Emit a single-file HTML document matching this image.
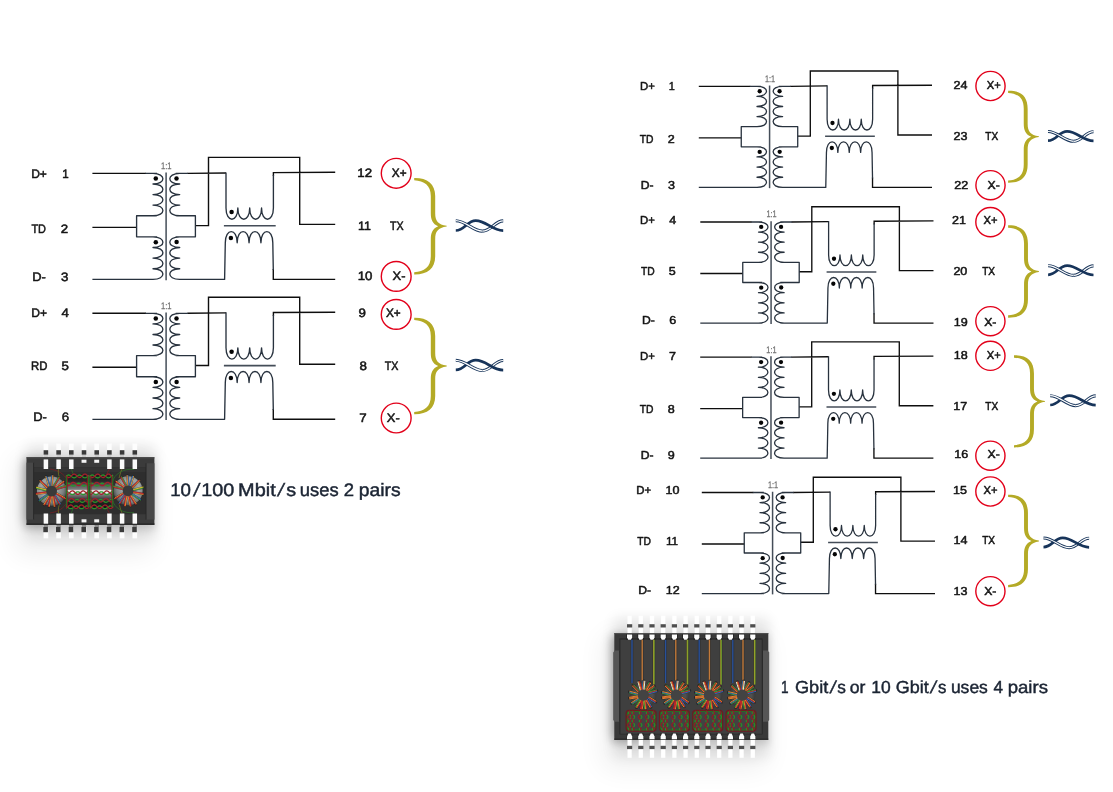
<!DOCTYPE html>
<html lang="en">
<head>
<meta charset="utf-8">
<title>Ethernet transformer pairs</title>
<style>
html,body{margin:0;padding:0;background:#ffffff;}
body{width:1113px;height:792px;overflow:hidden;}
svg{display:block;font-family:'Liberation Sans', sans-serif;will-change:transform;text-rendering:geometricPrecision;}
</style>
</head>
<body>
<svg width="1113" height="792" viewBox="0 0 1113 792">
<defs>
<filter id="blurA" x="-50%" y="-50%" width="200%" height="200%"><feGaussianBlur stdDeviation="13"/></filter>
<filter id="blurB" x="-50%" y="-50%" width="200%" height="200%"><feGaussianBlur stdDeviation="3.5"/></filter>
<filter id="blurH" x="-50%" y="-50%" width="200%" height="200%"><feGaussianBlur stdDeviation="6.5"/></filter>
<filter id="blurC" x="-100%" y="-50%" width="300%" height="200%"><feGaussianBlur stdDeviation="6"/></filter>
<filter id="soft" x="-10%" y="-10%" width="120%" height="120%"><feGaussianBlur stdDeviation="0.35"/></filter>
<radialGradient id="torL" cx="0.42" cy="0.4" r="0.62"><stop offset="0" stop-color="#6a6e6e"/><stop offset="0.45" stop-color="#a2a6a6"/><stop offset="0.8" stop-color="#7a7e7e"/><stop offset="1" stop-color="#4a4c4c"/></radialGradient>
<radialGradient id="torD" cx="0.5" cy="0.5" r="0.5"><stop offset="0" stop-color="#474747"/><stop offset="0.7" stop-color="#505050"/><stop offset="1" stop-color="#383838"/></radialGradient>
<linearGradient id="cyl" x1="0" y1="0" x2="0" y2="1"><stop offset="0" stop-color="#1a1a1a"/><stop offset="0.2" stop-color="#282828"/><stop offset="0.3" stop-color="#525252"/><stop offset="0.44" stop-color="#7c7c7c"/><stop offset="0.48" stop-color="#ededed"/><stop offset="0.55" stop-color="#f2f2f2"/><stop offset="0.59" stop-color="#808080"/><stop offset="0.7" stop-color="#4c4c4c"/><stop offset="0.8" stop-color="#242424"/><stop offset="1" stop-color="#161616"/></linearGradient>
</defs>
<g><rect x="14" y="456" width="140" height="100" rx="12" fill="#000" opacity="0.06" filter="url(#blurA)"/><rect x="25.5" y="445.2" width="129.9" height="93.7" rx="4" fill="#000" opacity="0.085" filter="url(#blurH)"/><rect x="23.5" y="460.2" width="26" height="63.7" fill="#000" opacity="0.24" filter="url(#blurC)"/><rect x="24.5" y="458.2" width="130.9" height="71.2" fill="#000" opacity="0.12" filter="url(#blurB)"/><rect x="43.6" y="443.6" width="4.6" height="14" fill="#fdfdfd"/><rect x="43.6" y="450.2" width="4.6" height="4.6" fill="#3a3a3a"/><rect x="43.6" y="454.8" width="4.6" height="2.4" fill="#c9c9c9"/><rect x="43.6" y="524.9" width="4.6" height="13.4" fill="#fdfdfd"/><rect x="43.3" y="527" width="4.6" height="5.2" fill="#3a3a3a"/><rect x="43.6" y="524.9" width="4.6" height="2.1" fill="#8a8a8a"/><rect x="56.3" y="443.6" width="4.6" height="14" fill="#fdfdfd"/><rect x="56.3" y="450.2" width="4.6" height="4.6" fill="#3a3a3a"/><rect x="56.3" y="454.8" width="4.6" height="2.4" fill="#c9c9c9"/><rect x="56.3" y="524.9" width="4.6" height="13.4" fill="#fdfdfd"/><rect x="56" y="527" width="4.6" height="5.2" fill="#3a3a3a"/><rect x="56.3" y="524.9" width="4.6" height="2.1" fill="#8a8a8a"/><rect x="69" y="443.6" width="4.6" height="14" fill="#fdfdfd"/><rect x="69" y="450.2" width="4.6" height="4.6" fill="#3a3a3a"/><rect x="69" y="454.8" width="4.6" height="2.4" fill="#c9c9c9"/><rect x="69" y="524.9" width="4.6" height="13.4" fill="#fdfdfd"/><rect x="68.7" y="527" width="4.6" height="5.2" fill="#3a3a3a"/><rect x="69" y="524.9" width="4.6" height="2.1" fill="#8a8a8a"/><rect x="81.7" y="443.6" width="4.6" height="14" fill="#fdfdfd"/><rect x="81.7" y="450.2" width="4.6" height="4.6" fill="#3a3a3a"/><rect x="81.7" y="454.8" width="4.6" height="2.4" fill="#c9c9c9"/><rect x="81.7" y="524.9" width="4.6" height="13.4" fill="#fdfdfd"/><rect x="81.4" y="527" width="4.6" height="5.2" fill="#3a3a3a"/><rect x="81.7" y="524.9" width="4.6" height="2.1" fill="#8a8a8a"/><rect x="94.4" y="443.6" width="4.6" height="14" fill="#fdfdfd"/><rect x="94.4" y="450.2" width="4.6" height="4.6" fill="#3a3a3a"/><rect x="94.4" y="454.8" width="4.6" height="2.4" fill="#c9c9c9"/><rect x="94.4" y="524.9" width="4.6" height="13.4" fill="#fdfdfd"/><rect x="94.1" y="527" width="4.6" height="5.2" fill="#3a3a3a"/><rect x="94.4" y="524.9" width="4.6" height="2.1" fill="#8a8a8a"/><rect x="107.1" y="443.6" width="4.6" height="14" fill="#fdfdfd"/><rect x="107.1" y="450.2" width="4.6" height="4.6" fill="#3a3a3a"/><rect x="107.1" y="454.8" width="4.6" height="2.4" fill="#c9c9c9"/><rect x="107.1" y="524.9" width="4.6" height="13.4" fill="#fdfdfd"/><rect x="106.8" y="527" width="4.6" height="5.2" fill="#3a3a3a"/><rect x="107.1" y="524.9" width="4.6" height="2.1" fill="#8a8a8a"/><rect x="119.8" y="443.6" width="4.6" height="14" fill="#fdfdfd"/><rect x="119.8" y="450.2" width="4.6" height="4.6" fill="#3a3a3a"/><rect x="119.8" y="454.8" width="4.6" height="2.4" fill="#c9c9c9"/><rect x="119.8" y="524.9" width="4.6" height="13.4" fill="#fdfdfd"/><rect x="119.5" y="527" width="4.6" height="5.2" fill="#3a3a3a"/><rect x="119.8" y="524.9" width="4.6" height="2.1" fill="#8a8a8a"/><rect x="132.5" y="443.6" width="4.6" height="14" fill="#fdfdfd"/><rect x="132.5" y="450.2" width="4.6" height="4.6" fill="#3a3a3a"/><rect x="132.5" y="454.8" width="4.6" height="2.4" fill="#c9c9c9"/><rect x="132.5" y="524.9" width="4.6" height="13.4" fill="#fdfdfd"/><rect x="132.2" y="527" width="4.6" height="5.2" fill="#3a3a3a"/><rect x="132.5" y="524.9" width="4.6" height="2.1" fill="#8a8a8a"/><rect x="26.5" y="457.2" width="127.9" height="67.7" fill="#3b3b3b"/><rect x="26.5" y="457.2" width="127.9" height="1.2" fill="#4a4a4a"/><rect x="26.5" y="523.3" width="127.9" height="1.6" fill="#2a2a2a"/><rect x="33.9" y="467.2" width="112" height="47.1" fill="#2e2e2e"/><rect x="33.9" y="467.2" width="112" height="5" fill="#343434"/><rect x="26.5" y="462.6" width="7.4" height="57" fill="#484848"/><rect x="33.2" y="462.6" width="0.9" height="57" fill="#262626"/><rect x="146" y="463.2" width="8.4" height="56.4" fill="#484848"/><rect x="145.6" y="463.2" width="0.9" height="56.4" fill="#262626"/><rect x="43.65" y="459.4" width="4.5" height="9.6" fill="#fafafa"/><rect x="43.65" y="513.5" width="4.5" height="10.2" fill="#fafafa"/><rect x="56.35" y="459.4" width="4.5" height="9.6" fill="#fafafa"/><rect x="56.35" y="513.5" width="4.5" height="10.2" fill="#fafafa"/><rect x="69.05" y="459.4" width="4.5" height="9.6" fill="#fafafa"/><rect x="69.05" y="513.5" width="4.5" height="10.2" fill="#fafafa"/><rect x="81.55" y="459.7" width="4.9" height="3.1" fill="#f4f4f4"/><rect x="81.55" y="519.3" width="4.9" height="3.1" fill="#f4f4f4"/><rect x="94.25" y="459.7" width="4.9" height="3.1" fill="#f4f4f4"/><rect x="94.25" y="519.3" width="4.9" height="3.1" fill="#f4f4f4"/><rect x="107.15" y="459.4" width="4.5" height="9.6" fill="#fafafa"/><rect x="107.15" y="513.5" width="4.5" height="10.2" fill="#fafafa"/><rect x="119.85" y="459.4" width="4.5" height="9.6" fill="#fafafa"/><rect x="119.85" y="513.5" width="4.5" height="10.2" fill="#fafafa"/><rect x="132.55" y="459.4" width="4.5" height="9.6" fill="#fafafa"/><rect x="132.55" y="513.5" width="4.5" height="10.2" fill="#fafafa"/><g fill="none" stroke-width="0.7" opacity="0.9"><path d="M50,469 C56,470 62,472 66,478" stroke="#8a1c22"/><path d="M58.5,469 C58,473 58.5,476 60,478" stroke="#8a8a20"/><path d="M50,513 C56,512 62,510 66,504" stroke="#8a1c22"/><path d="M58.5,513 C58,509 58.5,506 60,504" stroke="#8a8a20"/><path d="M71.3,469 C72,471 73,473 73.5,475" stroke="#2e7d2a"/><path d="M71.3,513 C72,511 73,509 73.5,507" stroke="#2e7d2a"/><path d="M109.4,469 C108,471 107,473 106.5,475" stroke="#8a1c22"/><path d="M109.4,513 C108,511 107,509 106.5,507" stroke="#8a1c22"/><path d="M122,469 C120,473 120,476 119,478" stroke="#8a8a20"/><path d="M122,513 C120,509 120,506 119,504" stroke="#8a8a20"/><path d="M134,469.5 C124,468 114,474 112.5,482" stroke="#2e7d2a"/><path d="M134,512.5 C124,514 114,508 112.5,500" stroke="#2e7d2a"/></g><circle cx="51.6" cy="491.1" r="14.7" fill="url(#torL)"/><g stroke="#151515" stroke-width="2.5" stroke-linecap="round" fill="none" opacity="0.55"><path d="M56.55,488.95 L66.31,485.9"/><path d="M55.64,487.51 L63.96,481.58"/><path d="M53.89,486.21 L59.18,477.46"/><path d="M51.51,485.7 L52.42,475.52"/><path d="M49.4,486.17 L46.26,476.44"/><path d="M47.33,487.79 L39.97,480.7"/><path d="M46.26,490.29 L36.38,487.69"/><path d="M46.36,492.39 L36.23,493.76"/><path d="M47.56,494.69 L39.24,500.62"/><path d="M49.39,496.03 L44.25,504.86"/><path d="M51,496.47 L48.8,506.45"/><path d="M53.02,496.31 L54.65,506.4"/><path d="M54.85,495.42 L60.08,504.19"/><path d="M56.49,493.38 L65.24,498.67"/></g><g stroke-width="0.95" stroke-linecap="round" fill="none"><path d="M56.43,488.54 L66.18,485.5" stroke="#3fa535"/><path d="M56.68,489.36 L66.44,486.31" stroke="#d2232a"/><path d="M55.39,487.17 L63.71,481.24" stroke="#f08a2a"/><path d="M55.88,487.86 L64.21,481.93" stroke="#d2232a"/><path d="M53.52,485.99 L58.82,477.24" stroke="#3fa535"/><path d="M54.25,486.43 L59.54,477.68" stroke="#d2232a"/><path d="M51.08,485.66 L52,475.48" stroke="#2f6fc0"/><path d="M51.93,485.74 L52.85,475.56" stroke="#e8862a"/><path d="M49,486.3 L45.86,476.57" stroke="#f0a030"/><path d="M49.81,486.04 L46.67,476.31" stroke="#2f6fc0"/><path d="M47.04,488.1 L39.68,481.01" stroke="#f08a2a"/><path d="M47.63,487.48 L40.27,480.39" stroke="#d2232a"/><path d="M46.15,490.7 L36.27,488.1" stroke="#3fa535"/><path d="M46.37,489.88 L36.48,487.28" stroke="#e8c52a"/><path d="M46.41,492.81 L36.29,494.19" stroke="#f08a2a"/><path d="M46.3,491.97 L36.17,493.34" stroke="#d2232a"/><path d="M47.81,495.03 L39.49,500.97" stroke="#3fa535"/><path d="M47.32,494.34 L39,500.28" stroke="#2f6fc0"/><path d="M49.76,496.24 L44.61,505.07" stroke="#d2232a"/><path d="M49.03,495.81 L43.88,504.64" stroke="#f08a2a"/><path d="M51.42,496.56 L49.21,506.54" stroke="#f08a2a"/><path d="M50.59,496.38 L48.38,506.35" stroke="#d2232a"/><path d="M53.44,496.24 L55.07,506.33" stroke="#d2232a"/><path d="M52.6,496.38 L54.23,506.47" stroke="#f08a2a"/><path d="M55.21,495.2 L60.45,503.97" stroke="#2f6fc0"/><path d="M54.48,495.63 L59.72,504.41" stroke="#d2232a"/><path d="M56.71,493.02 L65.46,498.3" stroke="#f08a2a"/><path d="M56.27,493.75 L65.02,499.03" stroke="#d2232a"/></g><circle cx="51.6" cy="491.1" r="5.4" fill="#3a3a3a"/><g transform="translate(256.2,0) scale(-1,1)"><circle cx="128.1" cy="490.8" r="14.5" fill="url(#torL)"/><g stroke="#151515" stroke-width="2.5" stroke-linecap="round" fill="none" opacity="0.55"><path d="M133.17,488.94 L142.89,486.51"/><path d="M132.16,487.24 L140.37,481.49"/><path d="M130.14,485.8 L134.91,476.99"/><path d="M127.94,485.4 L128.73,475.41"/><path d="M126.02,485.82 L123.18,476.21"/><path d="M123.9,487.41 L116.83,480.31"/><path d="M122.76,489.99 L113.08,487.42"/><path d="M122.9,492.27 L113.02,493.94"/><path d="M123.94,494.24 L115.57,499.76"/><path d="M125.7,495.64 L120.3,504.08"/><path d="M127.6,496.18 L125.6,506"/><path d="M129.62,495.98 L131.4,505.84"/><path d="M131.45,495.04 L136.77,503.53"/><path d="M132.93,493.22 L141.36,498.64"/></g><g stroke-width="0.95" stroke-linecap="round" fill="none"><path d="M133.07,488.53 L142.79,486.1" stroke="#3fa535"/><path d="M133.27,489.35 L142.99,486.92" stroke="#d2232a"/><path d="M131.92,486.89 L140.12,481.14" stroke="#f08a2a"/><path d="M132.41,487.59 L140.61,481.84" stroke="#d2232a"/><path d="M129.77,485.6 L134.53,476.78" stroke="#3fa535"/><path d="M130.52,486 L135.28,477.19" stroke="#d2232a"/><path d="M127.52,485.37 L128.31,475.38" stroke="#2f6fc0"/><path d="M128.37,485.44 L129.16,475.45" stroke="#e8862a"/><path d="M125.61,485.94 L122.77,476.33" stroke="#f0a030"/><path d="M126.43,485.7 L123.58,476.09" stroke="#2f6fc0"/><path d="M123.6,487.71 L116.53,480.61" stroke="#f08a2a"/><path d="M124.2,487.11 L117.13,480.01" stroke="#d2232a"/><path d="M122.65,490.4 L112.97,487.83" stroke="#3fa535"/><path d="M122.87,489.57 L113.19,487.01" stroke="#e8c52a"/><path d="M122.97,492.69 L113.09,494.36" stroke="#f08a2a"/><path d="M122.83,491.85 L112.95,493.52" stroke="#d2232a"/><path d="M124.17,494.6 L115.81,500.11" stroke="#3fa535"/><path d="M123.7,493.89 L115.34,499.4" stroke="#2f6fc0"/><path d="M126.05,495.86 L120.66,504.31" stroke="#d2232a"/><path d="M125.34,495.41 L119.94,503.85" stroke="#f08a2a"/><path d="M128.02,496.26 L126.02,506.08" stroke="#f08a2a"/><path d="M127.18,496.09 L125.19,505.91" stroke="#d2232a"/><path d="M130.04,495.91 L131.81,505.77" stroke="#d2232a"/><path d="M129.2,496.06 L130.98,505.92" stroke="#f08a2a"/><path d="M131.81,494.81 L137.13,503.3" stroke="#2f6fc0"/><path d="M131.09,495.27 L136.41,503.75" stroke="#d2232a"/><path d="M133.16,492.86 L141.59,498.28" stroke="#f08a2a"/><path d="M132.7,493.57 L141.13,498.99" stroke="#d2232a"/></g><circle cx="128.1" cy="490.8" r="5.4" fill="#3a3a3a"/></g><rect x="66.6" y="474.6" width="21.6" height="33.4" rx="2.5" fill="url(#cyl)"/><polyline points="66,476.4 66.41,476.07 66.81,475.76 67.22,475.49 67.63,475.26 68.04,475.1 68.44,475.02 68.85,475.01 69.26,475.07 69.66,475.21 70.07,475.42 70.48,475.68 70.89,475.99 71.29,476.31 71.7,476.64 72.11,476.96 72.51,477.25 72.92,477.48 73.33,477.66 73.74,477.77 74.14,477.8 74.55,477.75 74.96,477.63 75.36,477.44 75.77,477.19 76.18,476.9 76.59,476.57 76.99,476.24 77.4,475.92 77.81,475.63 78.21,475.37 78.62,475.18 79.03,475.05 79.44,475 79.84,475.03 80.25,475.13 80.66,475.31 81.06,475.54 81.47,475.82 81.88,476.14 82.29,476.47 82.69,476.8 83.1,477.1 83.51,477.36 83.91,477.58 84.32,477.72 84.73,477.79 85.14,477.79 85.54,477.7 85.95,477.55 86.36,477.33 86.76,477.05 87.17,476.75 87.58,476.42 87.99,476.09 88.39,475.78 88.8,475.5" fill="none" stroke="#2a962a" stroke-width="1.3"/><polyline points="66,475.8 66.41,476.2 66.81,476.58 67.22,476.91 67.63,477.18 68.04,477.37 68.44,477.48 68.85,477.49 69.26,477.41 69.66,477.24 70.07,476.99 70.48,476.67 70.89,476.3 71.29,475.91 71.7,475.5 72.11,475.12 72.51,474.77 72.92,474.48 73.33,474.27 73.74,474.14 74.14,474.1 74.55,474.16 74.96,474.31 75.36,474.54 75.77,474.84 76.18,475.2 76.59,475.59 76.99,475.99 77.4,476.38 77.81,476.74 78.21,477.05 78.62,477.28 79.03,477.44 79.44,477.5 79.84,477.47 80.25,477.34 80.66,477.13 81.06,476.84 81.47,476.5 81.88,476.12 82.29,475.72 82.69,475.32 83.1,474.95 83.51,474.63 83.91,474.37 84.32,474.2 84.73,474.11 85.14,474.12 85.54,474.22 85.95,474.41 86.36,474.68 86.76,475.01 87.17,475.38 87.58,475.78 87.99,476.18 88.39,476.56 88.8,476.89" fill="none" stroke="#a41e2c" stroke-width="1.3"/><polyline points="66,483.93 66.41,483.66 66.81,483.44 67.22,483.29 67.63,483.21 68.04,483.21 68.44,483.29 68.85,483.43 69.26,483.65 69.66,483.92 70.07,484.22 70.48,484.55 70.89,484.88 71.29,485.19 71.7,485.47 72.11,485.71 72.51,485.88 72.92,485.98 73.33,486 73.74,485.94 74.14,485.81 74.55,485.61 74.96,485.36 75.36,485.06 75.77,484.74 76.18,484.41 76.59,484.09 76.99,483.8 77.4,483.55 77.81,483.36 78.21,483.24 78.62,483.2 79.03,483.24 79.44,483.35 79.84,483.53 80.25,483.77 80.66,484.06 81.06,484.38 81.47,484.71 81.88,485.03 82.29,485.33 82.69,485.59 83.1,485.8 83.51,485.93 83.91,486 84.32,485.98 84.73,485.89 85.14,485.73 85.54,485.5 85.95,485.22 86.36,484.91 86.76,484.58 87.17,484.25 87.58,483.94 87.99,483.67 88.39,483.45 88.8,483.3" fill="none" stroke="#2a962a" stroke-width="1.3"/><polyline points="66,484.82 66.41,485.14 66.81,485.41 67.22,485.59 67.63,485.69 68.04,485.69 68.44,485.6 68.85,485.42 69.26,485.15 69.66,484.83 70.07,484.46 70.48,484.06 70.89,483.66 71.29,483.28 71.7,482.94 72.11,482.66 72.51,482.45 72.92,482.33 73.33,482.3 73.74,482.37 74.14,482.53 74.55,482.77 74.96,483.08 75.36,483.44 75.77,483.83 76.18,484.23 76.59,484.62 76.99,484.98 77.4,485.28 77.81,485.5 78.21,485.65 78.62,485.7 79.03,485.66 79.44,485.52 79.84,485.3 80.25,485.01 80.66,484.66 81.06,484.27 81.47,483.87 81.88,483.48 82.29,483.11 82.69,482.8 83.1,482.55 83.51,482.38 83.91,482.3 84.32,482.32 84.73,482.43 85.14,482.63 85.54,482.91 85.95,483.25 86.36,483.62 86.76,484.02 87.17,484.42 87.58,484.8 87.99,485.13 88.39,485.39 88.8,485.58" fill="none" stroke="#a41e2c" stroke-width="1.3"/><polyline points="66,492.02 66.41,491.88 66.81,491.81 67.22,491.81 67.63,491.9 68.04,492.06 68.44,492.28 68.85,492.55 69.26,492.86 69.66,493.19 70.07,493.52 70.48,493.83 70.89,494.1 71.29,494.33 71.7,494.49 72.11,494.58 72.51,494.6 72.92,494.53 73.33,494.39 73.74,494.19 74.14,493.93 74.55,493.63 74.96,493.3 75.36,492.97 75.77,492.65 76.18,492.37 76.59,492.13 76.99,491.94 77.4,491.83 77.81,491.8 78.21,491.84 78.62,491.96 79.03,492.15 79.44,492.4 79.84,492.69 80.25,493.01 80.66,493.34 81.06,493.67 81.47,493.96 81.88,494.22 82.29,494.41 82.69,494.54 83.1,494.6 83.51,494.57 83.91,494.47 84.32,494.3 84.73,494.07 85.14,493.79 85.54,493.47 85.95,493.14 86.36,492.82 86.76,492.51 87.17,492.25 87.58,492.03 87.99,491.88 88.39,491.81 88.8,491.81" fill="none" stroke="#2a962a" stroke-width="1.3"/><polyline points="66,494.03 66.41,494.21 66.81,494.29 67.22,494.28 67.63,494.18 68.04,493.99 68.44,493.72 68.85,493.39 69.26,493.02 69.66,492.62 70.07,492.22 70.48,491.84 70.89,491.5 71.29,491.23 71.7,491.03 72.11,490.92 72.51,490.91 72.92,490.98 73.33,491.15 73.74,491.4 74.14,491.72 74.55,492.08 74.96,492.48 75.36,492.88 75.77,493.26 76.18,493.61 76.59,493.91 76.99,494.12 77.4,494.26 77.81,494.3 78.21,494.25 78.62,494.1 79.03,493.87 79.44,493.57 79.84,493.22 80.25,492.83 80.66,492.43 81.06,492.03 81.47,491.67 81.88,491.37 82.29,491.13 82.69,490.97 83.1,490.9 83.51,490.93 83.91,491.05 84.32,491.26 84.73,491.54 85.14,491.89 85.54,492.27 85.95,492.67 86.36,493.06 86.76,493.44 87.17,493.76 87.58,494.02 87.99,494.2 88.39,494.29 88.8,494.29" fill="none" stroke="#a41e2c" stroke-width="1.3"/><polyline points="66,499.5 66.41,499.52 66.81,499.61 67.22,499.78 67.63,500 68.04,500.28 68.44,500.59 68.85,500.92 69.26,501.25 69.66,501.56 70.07,501.83 70.48,502.05 70.89,502.21 71.29,502.29 71.7,502.29 72.11,502.22 72.51,502.07 72.92,501.86 73.33,501.6 73.74,501.29 74.14,500.96 74.55,500.63 74.96,500.32 75.36,500.04 75.77,499.8 76.18,499.63 76.59,499.53 76.99,499.5 77.4,499.55 77.81,499.68 78.21,499.88 78.62,500.13 79.03,500.43 79.44,500.75 79.84,501.08 80.25,501.4 80.66,501.69 81.06,501.94 81.47,502.13 81.88,502.25 82.29,502.3 82.69,502.27 83.1,502.16 83.51,501.98 83.91,501.74 84.32,501.45 84.73,501.14 85.14,500.81 85.54,500.48 85.95,500.18 86.36,499.92 86.76,499.71 87.17,499.57 87.58,499.5 87.99,499.52 88.39,499.61 88.8,499.77" fill="none" stroke="#2a962a" stroke-width="1.3"/><polyline points="66,502 66.41,501.98 66.81,501.86 67.22,501.66 67.63,501.39 68.04,501.05 68.44,500.67 68.85,500.27 69.26,499.87 69.66,499.5 70.07,499.17 70.48,498.9 70.89,498.72 71.29,498.62 71.7,498.61 72.11,498.7 72.51,498.88 72.92,499.13 73.33,499.46 73.74,499.83 74.14,500.22 74.55,500.62 74.96,501.01 75.36,501.35 75.77,501.63 76.18,501.84 76.59,501.97 76.99,502 77.4,501.93 77.81,501.78 78.21,501.54 78.62,501.23 79.03,500.88 79.44,500.48 79.84,500.08 80.25,499.69 80.66,499.34 81.06,499.03 81.47,498.8 81.88,498.66 82.29,498.6 82.69,498.64 83.1,498.77 83.51,498.99 83.91,499.28 84.32,499.63 84.73,500.01 85.14,500.41 85.54,500.81 85.95,501.17 86.36,501.49 86.76,501.74 87.17,501.91 87.58,501.99 87.99,501.98 88.39,501.87 88.8,501.68" fill="none" stroke="#a41e2c" stroke-width="1.3"/><polyline points="66,506.03 66.41,506.2 66.81,506.43 67.22,506.72 67.63,507.03 68.04,507.36 68.44,507.69 68.85,507.99 69.26,508.26 69.66,508.47 70.07,508.62 70.48,508.69 70.89,508.69 71.29,508.61 71.7,508.45 72.11,508.23 72.51,507.96 72.92,507.66 73.33,507.33 73.74,507 74.14,506.69 74.55,506.41 74.96,506.18 75.36,506.01 75.77,505.92 76.18,505.9 76.59,505.96 76.99,506.1 77.4,506.3 77.81,506.56 78.21,506.86 78.62,507.19 79.03,507.52 79.44,507.83 79.84,508.12 80.25,508.37 80.66,508.55 81.06,508.66 81.47,508.7 81.88,508.66 82.29,508.54 82.69,508.36 83.1,508.11 83.51,507.82 83.91,507.5 84.32,507.17 84.73,506.85 85.14,506.55 85.54,506.29 85.95,506.09 86.36,505.96 86.76,505.9 87.17,505.92 87.58,506.02 87.99,506.19 88.39,506.42 88.8,506.7" fill="none" stroke="#2a962a" stroke-width="1.3"/><polyline points="66,508.25 66.41,508.04 66.81,507.75 67.22,507.41 67.63,507.03 68.04,506.63 68.44,506.23 68.85,505.86 69.26,505.54 69.66,505.28 70.07,505.1 70.48,505.01 70.89,505.01 71.29,505.11 71.7,505.3 72.11,505.57 72.51,505.89 72.92,506.27 73.33,506.67 73.74,507.07 74.14,507.45 74.55,507.78 74.96,508.06 75.36,508.26 75.77,508.38 76.18,508.4 76.59,508.32 76.99,508.16 77.4,507.91 77.81,507.6 78.21,507.23 78.62,506.84 79.03,506.44 79.44,506.05 79.84,505.7 80.25,505.41 80.66,505.18 81.06,505.05 81.47,505 81.88,505.05 82.29,505.19 82.69,505.42 83.1,505.72 83.51,506.07 83.91,506.46 84.32,506.86 84.73,507.25 85.14,507.61 85.54,507.92 85.95,508.17 86.36,508.33 86.76,508.4 87.17,508.37 87.58,508.25 87.99,508.05 88.39,507.77 88.8,507.43" fill="none" stroke="#a41e2c" stroke-width="1.3"/><path d="M66.4,476 V507 M88.4,476 V507" stroke="#237a23" stroke-width="1.0" fill="none"/><path d="M67.4,476 V507 M87.4,476 V507" stroke="#8a1c26" stroke-width="0.8" fill="none"/><rect x="90.2" y="474.6" width="22.3" height="33.4" rx="2.5" fill="url(#cyl)"/><polyline points="89.6,476.4 90.01,476.07 90.41,475.76 90.82,475.49 91.22,475.27 91.63,475.11 92.03,475.02 92.44,475 92.84,475.07 93.25,475.21 93.65,475.41 94.06,475.67 94.46,475.97 94.87,476.29 95.27,476.62 95.68,476.94 96.08,477.22 96.49,477.47 96.89,477.65 97.3,477.76 97.7,477.8 98.11,477.76 98.51,477.65 98.92,477.46 99.32,477.22 99.73,476.93 100.13,476.62 100.54,476.29 100.94,475.96 101.35,475.67 101.76,475.41 102.16,475.2 102.57,475.07 102.97,475 103.38,475.02 103.78,475.11 104.19,475.27 104.59,475.49 105,475.77 105.4,476.08 105.81,476.41 106.21,476.73 106.62,477.04 107.02,477.31 107.43,477.54 107.83,477.7 108.24,477.78 108.64,477.8 109.05,477.73 109.45,477.59 109.86,477.38 110.26,477.13 110.67,476.83 111.07,476.5 111.48,476.17 111.88,475.86 112.29,475.57 112.69,475.33 113.1,475.15" fill="none" stroke="#2a962a" stroke-width="1.3"/><polyline points="89.6,475.8 90.01,476.2 90.41,476.57 90.82,476.9 91.22,477.18 91.63,477.37 92.03,477.48 92.44,477.49 92.84,477.42 93.25,477.25 93.65,477 94.06,476.69 94.46,476.32 94.87,475.93 95.27,475.53 95.68,475.15 96.08,474.8 96.49,474.51 96.89,474.28 97.3,474.15 97.7,474.1 98.11,474.15 98.51,474.29 98.92,474.51 99.32,474.8 99.73,475.15 100.13,475.54 100.54,475.94 100.94,476.33 101.35,476.69 101.76,477.01 102.16,477.25 102.57,477.42 102.97,477.5 103.38,477.48 103.78,477.37 104.19,477.17 104.59,476.9 105,476.57 105.4,476.19 105.81,475.79 106.21,475.4 106.62,475.02 107.02,474.69 107.43,474.42 107.83,474.23 108.24,474.12 108.64,474.11 109.05,474.19 109.45,474.35 109.86,474.6 110.26,474.92 110.67,475.28 111.07,475.68 111.48,476.08 111.88,476.46 112.29,476.81 112.69,477.1 113.1,477.32" fill="none" stroke="#a41e2c" stroke-width="1.3"/><polyline points="89.6,483.93 90.01,483.66 90.41,483.44 90.82,483.29 91.22,483.21 91.63,483.21 92.03,483.28 92.44,483.43 92.84,483.64 93.25,483.9 93.65,484.21 94.06,484.53 94.46,484.86 94.87,485.17 95.27,485.46 95.68,485.69 96.08,485.87 96.49,485.97 96.89,486 97.3,485.95 97.7,485.83 98.11,485.64 98.51,485.39 98.92,485.1 99.32,484.78 99.73,484.45 100.13,484.13 100.54,483.83 100.94,483.58 101.35,483.38 101.76,483.26 102.16,483.2 102.57,483.22 102.97,483.32 103.38,483.49 103.78,483.73 104.19,484.01 104.59,484.32 105,484.65 105.4,484.97 105.81,485.28 106.21,485.54 106.62,485.76 107.02,485.91 107.43,485.99 107.83,485.99 108.24,485.92 108.64,485.77 109.05,485.56 109.45,485.29 109.86,484.99 110.26,484.66 110.67,484.33 111.07,484.02 111.48,483.74 111.88,483.5 112.29,483.33 112.69,483.23 113.1,483.2" fill="none" stroke="#2a962a" stroke-width="1.3"/><polyline points="89.6,484.82 90.01,485.14 90.41,485.4 90.82,485.59 91.22,485.69 91.63,485.69 92.03,485.6 92.44,485.42 92.84,485.17 93.25,484.84 93.65,484.48 94.06,484.08 94.46,483.68 94.87,483.3 95.27,482.96 95.68,482.67 96.08,482.46 96.49,482.34 96.89,482.3 97.3,482.36 97.7,482.51 98.11,482.74 98.51,483.04 98.92,483.4 99.32,483.79 99.73,484.19 100.13,484.58 100.54,484.93 100.94,485.24 101.35,485.48 101.76,485.63 102.16,485.7 102.57,485.67 102.97,485.55 103.38,485.34 103.78,485.06 104.19,484.72 104.59,484.34 105,483.94 105.4,483.55 105.81,483.18 106.21,482.85 106.62,482.59 107.02,482.41 107.43,482.31 107.83,482.31 108.24,482.4 108.64,482.58 109.05,482.84 109.45,483.16 109.86,483.53 110.26,483.92 110.67,484.32 111.07,484.7 111.48,485.05 111.88,485.33 112.29,485.54 112.69,485.67 113.1,485.7" fill="none" stroke="#a41e2c" stroke-width="1.3"/><polyline points="89.6,492.02 90.01,491.88 90.41,491.81 90.82,491.81 91.22,491.9 91.63,492.05 92.03,492.27 92.44,492.54 92.84,492.85 93.25,493.17 93.65,493.5 94.06,493.81 94.46,494.09 94.87,494.32 95.27,494.48 95.68,494.58 96.08,494.6 96.49,494.54 96.89,494.41 97.3,494.21 97.7,493.95 98.11,493.66 98.51,493.34 98.92,493.01 99.32,492.69 99.73,492.4 100.13,492.15 100.54,491.96 100.94,491.84 101.35,491.8 101.76,491.83 102.16,491.94 102.57,492.12 102.97,492.36 103.38,492.64 103.78,492.96 104.19,493.29 104.59,493.61 105,493.91 105.4,494.17 105.81,494.38 106.21,494.52 106.62,494.59 107.02,494.59 107.43,494.5 107.83,494.35 108.24,494.13 108.64,493.86 109.05,493.55 109.45,493.22 109.86,492.9 110.26,492.58 110.67,492.31 111.07,492.08 111.48,491.92 111.88,491.82 112.29,491.8 112.69,491.86 113.1,492" fill="none" stroke="#2a962a" stroke-width="1.3"/><polyline points="89.6,494.03 90.01,494.21 90.41,494.29 90.82,494.28 91.22,494.18 91.63,494 92.03,493.73 92.44,493.4 92.84,493.03 93.25,492.63 93.65,492.24 94.06,491.86 94.46,491.52 94.87,491.24 95.27,491.04 95.68,490.93 96.08,490.9 96.49,490.97 96.89,491.13 97.3,491.38 97.7,491.68 98.11,492.04 98.51,492.43 98.92,492.83 99.32,493.22 99.73,493.57 100.13,493.87 100.54,494.1 100.94,494.25 101.35,494.3 101.76,494.26 102.16,494.13 102.57,493.91 102.97,493.62 103.38,493.28 103.78,492.9 104.19,492.5 104.59,492.1 105,491.74 105.4,491.42 105.81,491.17 106.21,490.99 106.62,490.91 107.02,490.92 107.43,491.02 107.83,491.21 108.24,491.47 108.64,491.8 109.05,492.18 109.45,492.57 109.86,492.97 110.26,493.35 110.67,493.68 111.07,493.96 111.48,494.16 111.88,494.27 112.29,494.3 112.69,494.22 113.1,494.06" fill="none" stroke="#a41e2c" stroke-width="1.3"/><polyline points="89.6,499.5 90.01,499.52 90.41,499.61 90.82,499.77 91.22,500 91.63,500.27 92.03,500.58 92.44,500.91 92.84,501.24 93.25,501.55 93.65,501.82 94.06,502.04 94.46,502.2 94.87,502.28 95.27,502.29 95.68,502.23 96.08,502.09 96.49,501.88 96.89,501.62 97.3,501.32 97.7,501 98.11,500.67 98.51,500.35 98.92,500.07 99.32,499.83 99.73,499.65 100.13,499.54 100.54,499.5 100.94,499.54 101.35,499.66 101.76,499.85 102.16,500.09 102.57,500.38 102.97,500.7 103.38,501.03 103.78,501.35 104.19,501.65 104.59,501.9 105,502.1 105.4,502.24 105.81,502.3 106.21,502.28 106.62,502.19 107.02,502.02 107.43,501.8 107.83,501.52 108.24,501.21 108.64,500.88 109.05,500.56 109.45,500.25 109.86,499.98 110.26,499.76 110.67,499.6 111.07,499.51 111.48,499.51 111.88,499.57 112.29,499.72 112.69,499.92 113.1,500.18" fill="none" stroke="#2a962a" stroke-width="1.3"/><polyline points="89.6,502 90.01,501.98 90.41,501.87 90.82,501.67 91.22,501.39 91.63,501.06 92.03,500.68 92.44,500.29 92.84,499.89 93.25,499.52 93.65,499.18 94.06,498.92 94.46,498.72 94.87,498.62 95.27,498.61 95.68,498.69 96.08,498.86 96.49,499.11 96.89,499.43 97.3,499.79 97.7,500.18 98.11,500.58 98.51,500.97 98.92,501.31 99.32,501.6 99.73,501.82 100.13,501.96 100.54,502 100.94,501.95 101.35,501.81 101.76,501.58 102.16,501.28 102.57,500.93 102.97,500.55 103.38,500.15 103.78,499.76 104.19,499.4 104.59,499.08 105,498.84 105.4,498.68 105.81,498.6 106.21,498.62 106.62,498.74 107.02,498.94 107.43,499.21 107.83,499.55 108.24,499.92 108.64,500.32 109.05,500.72 109.45,501.09 109.86,501.42 110.26,501.69 110.67,501.88 111.07,501.98 111.48,501.99 111.88,501.91 112.29,501.74 112.69,501.49 113.1,501.17" fill="none" stroke="#a41e2c" stroke-width="1.3"/><polyline points="89.6,506.03 90.01,506.2 90.41,506.43 90.82,506.71 91.22,507.02 91.63,507.35 92.03,507.68 92.44,507.98 92.84,508.25 93.25,508.46 93.65,508.61 94.06,508.69 94.46,508.69 94.87,508.61 95.27,508.47 95.68,508.25 96.08,507.99 96.49,507.68 96.89,507.36 97.3,507.03 97.7,506.71 98.11,506.43 98.51,506.2 98.92,506.03 99.32,505.93 99.73,505.9 100.13,505.95 100.54,506.08 100.94,506.27 101.35,506.52 101.76,506.82 102.16,507.14 102.57,507.47 102.97,507.79 103.38,508.08 103.78,508.33 104.19,508.52 104.59,508.65 105,508.7 105.4,508.67 105.81,508.57 106.21,508.4 106.62,508.17 107.02,507.88 107.43,507.57 107.83,507.24 108.24,506.92 108.64,506.61 109.05,506.35 109.45,506.13 109.86,505.99 110.26,505.91 110.67,505.91 111.07,505.99 111.48,506.14 111.88,506.35 112.29,506.62 112.69,506.92 113.1,507.25" fill="none" stroke="#2a962a" stroke-width="1.3"/><polyline points="89.6,508.25 90.01,508.04 90.41,507.76 90.82,507.42 91.22,507.04 91.63,506.64 92.03,506.24 92.44,505.87 92.84,505.55 93.25,505.29 93.65,505.11 94.06,505.01 94.46,505.01 94.87,505.1 95.27,505.29 95.68,505.54 96.08,505.87 96.49,506.24 96.89,506.63 97.3,507.03 97.7,507.41 98.11,507.75 98.51,508.03 98.92,508.24 99.32,508.37 99.73,508.4 100.13,508.34 100.54,508.18 100.94,507.95 101.35,507.64 101.76,507.29 102.16,506.9 102.57,506.5 102.97,506.11 103.38,505.75 103.78,505.45 104.19,505.22 104.59,505.06 105,505 105.4,505.03 105.81,505.16 106.21,505.37 106.62,505.65 107.02,505.99 107.43,506.37 107.83,506.77 108.24,507.16 108.64,507.53 109.05,507.86 109.45,508.12 109.86,508.3 110.26,508.39 110.67,508.39 111.07,508.29 111.48,508.11 111.88,507.85 112.29,507.53 112.69,507.16 113.1,506.76" fill="none" stroke="#a41e2c" stroke-width="1.3"/><path d="M90,476 V507 M112.7,476 V507" stroke="#237a23" stroke-width="1.0" fill="none"/><path d="M91,476 V507 M111.7,476 V507" stroke="#8a1c26" stroke-width="0.8" fill="none"/></g>
<g><rect x="602" y="634" width="166" height="136" rx="12" fill="#000" opacity="0.06" filter="url(#blurA)"/><rect x="613.3" y="618.1" width="156" height="138.7" rx="4" fill="#000" opacity="0.085" filter="url(#blurH)"/><rect x="611.3" y="636.1" width="26" height="102.7" fill="#000" opacity="0.24" filter="url(#blurC)"/><rect x="612.3" y="634.1" width="157" height="110.2" fill="#000" opacity="0.12" filter="url(#blurB)"/><rect x="627.5" y="615.8" width="4.2" height="18" fill="#ffffff"/><rect x="627" y="624.2" width="5.2" height="3.3" fill="#505050" filter="url(#soft)"/><rect x="627.5" y="739.8" width="4.2" height="18" fill="#ffffff"/><rect x="627" y="745.8" width="5.2" height="3.3" fill="#505050" filter="url(#soft)"/><rect x="638.7" y="615.8" width="4.2" height="18" fill="#ffffff"/><rect x="638.2" y="624.2" width="5.2" height="3.3" fill="#505050" filter="url(#soft)"/><rect x="638.7" y="739.8" width="4.2" height="18" fill="#ffffff"/><rect x="638.2" y="745.8" width="5.2" height="3.3" fill="#505050" filter="url(#soft)"/><rect x="649.9" y="615.8" width="4.2" height="18" fill="#ffffff"/><rect x="649.4" y="624.2" width="5.2" height="3.3" fill="#505050" filter="url(#soft)"/><rect x="649.9" y="739.8" width="4.2" height="18" fill="#ffffff"/><rect x="649.4" y="745.8" width="5.2" height="3.3" fill="#505050" filter="url(#soft)"/><rect x="661.1" y="615.8" width="4.2" height="18" fill="#ffffff"/><rect x="660.6" y="624.2" width="5.2" height="3.3" fill="#505050" filter="url(#soft)"/><rect x="661.1" y="739.8" width="4.2" height="18" fill="#ffffff"/><rect x="660.6" y="745.8" width="5.2" height="3.3" fill="#505050" filter="url(#soft)"/><rect x="672.3" y="615.8" width="4.2" height="18" fill="#ffffff"/><rect x="671.8" y="624.2" width="5.2" height="3.3" fill="#505050" filter="url(#soft)"/><rect x="672.3" y="739.8" width="4.2" height="18" fill="#ffffff"/><rect x="671.8" y="745.8" width="5.2" height="3.3" fill="#505050" filter="url(#soft)"/><rect x="683.5" y="615.8" width="4.2" height="18" fill="#ffffff"/><rect x="683" y="624.2" width="5.2" height="3.3" fill="#505050" filter="url(#soft)"/><rect x="683.5" y="739.8" width="4.2" height="18" fill="#ffffff"/><rect x="683" y="745.8" width="5.2" height="3.3" fill="#505050" filter="url(#soft)"/><rect x="694.7" y="615.8" width="4.2" height="18" fill="#ffffff"/><rect x="694.2" y="624.2" width="5.2" height="3.3" fill="#505050" filter="url(#soft)"/><rect x="694.7" y="739.8" width="4.2" height="18" fill="#ffffff"/><rect x="694.2" y="745.8" width="5.2" height="3.3" fill="#505050" filter="url(#soft)"/><rect x="705.9" y="615.8" width="4.2" height="18" fill="#ffffff"/><rect x="705.4" y="624.2" width="5.2" height="3.3" fill="#505050" filter="url(#soft)"/><rect x="705.9" y="739.8" width="4.2" height="18" fill="#ffffff"/><rect x="705.4" y="745.8" width="5.2" height="3.3" fill="#505050" filter="url(#soft)"/><rect x="717.1" y="615.8" width="4.2" height="18" fill="#ffffff"/><rect x="716.6" y="624.2" width="5.2" height="3.3" fill="#505050" filter="url(#soft)"/><rect x="717.1" y="739.8" width="4.2" height="18" fill="#ffffff"/><rect x="716.6" y="745.8" width="5.2" height="3.3" fill="#505050" filter="url(#soft)"/><rect x="728.3" y="615.8" width="4.2" height="18" fill="#ffffff"/><rect x="727.8" y="624.2" width="5.2" height="3.3" fill="#505050" filter="url(#soft)"/><rect x="728.3" y="739.8" width="4.2" height="18" fill="#ffffff"/><rect x="727.8" y="745.8" width="5.2" height="3.3" fill="#505050" filter="url(#soft)"/><rect x="739.5" y="615.8" width="4.2" height="18" fill="#ffffff"/><rect x="739" y="624.2" width="5.2" height="3.3" fill="#505050" filter="url(#soft)"/><rect x="739.5" y="739.8" width="4.2" height="18" fill="#ffffff"/><rect x="739" y="745.8" width="5.2" height="3.3" fill="#505050" filter="url(#soft)"/><rect x="750.7" y="615.8" width="4.2" height="18" fill="#ffffff"/><rect x="750.2" y="624.2" width="5.2" height="3.3" fill="#505050" filter="url(#soft)"/><rect x="750.7" y="739.8" width="4.2" height="18" fill="#ffffff"/><rect x="750.2" y="745.8" width="5.2" height="3.3" fill="#505050" filter="url(#soft)"/><rect x="614.3" y="633.1" width="154" height="106.7" fill="#393939"/><rect x="614.3" y="633.1" width="154" height="1" fill="#505050"/><rect x="614.3" y="738.6" width="154" height="1.2" fill="#262626"/><rect x="619.4" y="638.4" width="143.2" height="96" fill="#272727"/><rect x="620.4" y="639.6" width="141.4" height="94.2" fill="#3f3f3f"/><path d="M613.2,652.5 L614.8,650.6 H619.4 V721.8 H614.8 L613.2,719.9 Z" fill="#565656"/><path d="M769.2,652.5 L767.6,650.6 H762.8 V721.8 H767.6 L769.2,719.9 Z" fill="#565656"/><rect x="619.2" y="650.6" width="0.9" height="71.2" fill="#2a2a2a"/><rect x="762.1" y="650.6" width="0.9" height="71.2" fill="#2a2a2a"/><rect x="626.3" y="634.2" width="6.6" height="5.6" fill="#1e1e1e"/><path d="M627,634.4 H632.2 V637.4 L631,639.8 H628.2 L627,637.4 Z" fill="#fcfcfc"/><rect x="626.5" y="733.4" width="6.2" height="5.4" fill="#2a2a2a"/><path d="M627,739.2 H632.2 V736.4 L630.8,733.6 H628.4 L627,736.4 Z" fill="#fcfcfc"/><rect x="637.5" y="634.2" width="6.6" height="5.6" fill="#1e1e1e"/><path d="M638.2,634.4 H643.4 V637.4 L642.2,639.8 H639.4 L638.2,637.4 Z" fill="#fcfcfc"/><rect x="637.7" y="733.4" width="6.2" height="5.4" fill="#2a2a2a"/><path d="M638.2,739.2 H643.4 V736.4 L642,733.6 H639.6 L638.2,736.4 Z" fill="#fcfcfc"/><rect x="648.7" y="634.2" width="6.6" height="5.6" fill="#1e1e1e"/><path d="M649.4,634.4 H654.6 V637.4 L653.4,639.8 H650.6 L649.4,637.4 Z" fill="#fcfcfc"/><rect x="648.9" y="733.4" width="6.2" height="5.4" fill="#2a2a2a"/><path d="M649.4,739.2 H654.6 V736.4 L653.2,733.6 H650.8 L649.4,736.4 Z" fill="#fcfcfc"/><rect x="659.9" y="634.2" width="6.6" height="5.6" fill="#1e1e1e"/><path d="M660.6,634.4 H665.8 V637.4 L664.6,639.8 H661.8 L660.6,637.4 Z" fill="#fcfcfc"/><rect x="660.1" y="733.4" width="6.2" height="5.4" fill="#2a2a2a"/><path d="M660.6,739.2 H665.8 V736.4 L664.4,733.6 H662 L660.6,736.4 Z" fill="#fcfcfc"/><rect x="671.1" y="634.2" width="6.6" height="5.6" fill="#1e1e1e"/><path d="M671.8,634.4 H677 V637.4 L675.8,639.8 H673 L671.8,637.4 Z" fill="#fcfcfc"/><rect x="671.3" y="733.4" width="6.2" height="5.4" fill="#2a2a2a"/><path d="M671.8,739.2 H677 V736.4 L675.6,733.6 H673.2 L671.8,736.4 Z" fill="#fcfcfc"/><rect x="682.3" y="634.2" width="6.6" height="5.6" fill="#1e1e1e"/><path d="M683,634.4 H688.2 V637.4 L687,639.8 H684.2 L683,637.4 Z" fill="#fcfcfc"/><rect x="682.5" y="733.4" width="6.2" height="5.4" fill="#2a2a2a"/><path d="M683,739.2 H688.2 V736.4 L686.8,733.6 H684.4 L683,736.4 Z" fill="#fcfcfc"/><rect x="693.5" y="634.2" width="6.6" height="5.6" fill="#1e1e1e"/><path d="M694.2,634.4 H699.4 V637.4 L698.2,639.8 H695.4 L694.2,637.4 Z" fill="#fcfcfc"/><rect x="693.7" y="733.4" width="6.2" height="5.4" fill="#2a2a2a"/><path d="M694.2,739.2 H699.4 V736.4 L698,733.6 H695.6 L694.2,736.4 Z" fill="#fcfcfc"/><rect x="704.7" y="634.2" width="6.6" height="5.6" fill="#1e1e1e"/><path d="M705.4,634.4 H710.6 V637.4 L709.4,639.8 H706.6 L705.4,637.4 Z" fill="#fcfcfc"/><rect x="704.9" y="733.4" width="6.2" height="5.4" fill="#2a2a2a"/><path d="M705.4,739.2 H710.6 V736.4 L709.2,733.6 H706.8 L705.4,736.4 Z" fill="#fcfcfc"/><rect x="715.9" y="634.2" width="6.6" height="5.6" fill="#1e1e1e"/><path d="M716.6,634.4 H721.8 V637.4 L720.6,639.8 H717.8 L716.6,637.4 Z" fill="#fcfcfc"/><rect x="716.1" y="733.4" width="6.2" height="5.4" fill="#2a2a2a"/><path d="M716.6,739.2 H721.8 V736.4 L720.4,733.6 H718 L716.6,736.4 Z" fill="#fcfcfc"/><rect x="727.1" y="634.2" width="6.6" height="5.6" fill="#1e1e1e"/><path d="M727.8,634.4 H733 V637.4 L731.8,639.8 H729 L727.8,637.4 Z" fill="#fcfcfc"/><rect x="727.3" y="733.4" width="6.2" height="5.4" fill="#2a2a2a"/><path d="M727.8,739.2 H733 V736.4 L731.6,733.6 H729.2 L727.8,736.4 Z" fill="#fcfcfc"/><rect x="738.3" y="634.2" width="6.6" height="5.6" fill="#1e1e1e"/><path d="M739,634.4 H744.2 V637.4 L743,639.8 H740.2 L739,637.4 Z" fill="#fcfcfc"/><rect x="738.5" y="733.4" width="6.2" height="5.4" fill="#2a2a2a"/><path d="M739,739.2 H744.2 V736.4 L742.8,733.6 H740.4 L739,736.4 Z" fill="#fcfcfc"/><rect x="749.5" y="634.2" width="6.6" height="5.6" fill="#1e1e1e"/><path d="M750.2,634.4 H755.4 V637.4 L754.2,639.8 H751.4 L750.2,637.4 Z" fill="#fcfcfc"/><rect x="749.7" y="733.4" width="6.2" height="5.4" fill="#2a2a2a"/><path d="M750.2,739.2 H755.4 V736.4 L754,733.6 H751.6 L750.2,736.4 Z" fill="#fcfcfc"/><path d="M632,639.8 V683" stroke="#262626" stroke-width="2.6" opacity="0.7" fill="none"/><path d="M632,639.8 V683" stroke="#28509a" stroke-width="1.4" fill="none"/><path d="M642.2,639.8 V680.5" stroke="#262626" stroke-width="2.6" opacity="0.7" fill="none"/><path d="M642.2,639.8 V680.5" stroke="#c27a3a" stroke-width="1.4" fill="none"/><path d="M653.8,639.8 V684.5" stroke="#262626" stroke-width="2.6" opacity="0.7" fill="none"/><path d="M653.8,639.8 V684.5" stroke="#a8a42a" stroke-width="1.4" fill="none"/><path d="M654.3,639.8 V684.5" stroke="#5a9a2a" stroke-width="0.6" fill="none"/><path d="M665.6,639.8 V683" stroke="#262626" stroke-width="2.6" opacity="0.7" fill="none"/><path d="M665.6,639.8 V683" stroke="#28509a" stroke-width="1.4" fill="none"/><path d="M675.8,639.8 V680.5" stroke="#262626" stroke-width="2.6" opacity="0.7" fill="none"/><path d="M675.8,639.8 V680.5" stroke="#c27a3a" stroke-width="1.4" fill="none"/><path d="M687.4,639.8 V684.5" stroke="#262626" stroke-width="2.6" opacity="0.7" fill="none"/><path d="M687.4,639.8 V684.5" stroke="#a8a42a" stroke-width="1.4" fill="none"/><path d="M687.9,639.8 V684.5" stroke="#5a9a2a" stroke-width="0.6" fill="none"/><path d="M699.2,639.8 V683" stroke="#262626" stroke-width="2.6" opacity="0.7" fill="none"/><path d="M699.2,639.8 V683" stroke="#28509a" stroke-width="1.4" fill="none"/><path d="M709.4,639.8 V680.5" stroke="#262626" stroke-width="2.6" opacity="0.7" fill="none"/><path d="M709.4,639.8 V680.5" stroke="#c27a3a" stroke-width="1.4" fill="none"/><path d="M721,639.8 V684.5" stroke="#262626" stroke-width="2.6" opacity="0.7" fill="none"/><path d="M721,639.8 V684.5" stroke="#a8a42a" stroke-width="1.4" fill="none"/><path d="M721.5,639.8 V684.5" stroke="#5a9a2a" stroke-width="0.6" fill="none"/><path d="M732.8,639.8 V683" stroke="#262626" stroke-width="2.6" opacity="0.7" fill="none"/><path d="M732.8,639.8 V683" stroke="#28509a" stroke-width="1.4" fill="none"/><path d="M743,639.8 V680.5" stroke="#262626" stroke-width="2.6" opacity="0.7" fill="none"/><path d="M743,639.8 V680.5" stroke="#c27a3a" stroke-width="1.4" fill="none"/><path d="M754.6,639.8 V684.5" stroke="#262626" stroke-width="2.6" opacity="0.7" fill="none"/><path d="M754.6,639.8 V684.5" stroke="#a8a42a" stroke-width="1.4" fill="none"/><path d="M755.1,639.8 V684.5" stroke="#5a9a2a" stroke-width="0.6" fill="none"/><circle cx="643.3" cy="695.1" r="13.1" fill="url(#torD)"/><g stroke="#151515" stroke-width="3.3" stroke-linecap="round" fill="none" opacity="0.55"><path d="M648.5,693.03 L656.64,690.84"/><path d="M647.38,691.26 L654.14,686.24"/><path d="M645.61,690 L649.94,682.78"/><path d="M643.19,689.5 L643.99,681.12"/><path d="M641.13,689.94 L638.8,681.84"/><path d="M638.97,691.55 L633.11,685.5"/><path d="M637.76,694.26 L629.64,692.04"/><path d="M637.93,696.68 L629.62,698.09"/><path d="M639,698.69 L631.96,703.31"/><path d="M640.91,700.16 L636.44,707.31"/><path d="M642.91,700.69 L641.35,708.96"/><path d="M644.58,700.55 L645.53,708.92"/><path d="M646.59,699.63 L650.72,706.97"/><path d="M648.37,697.48 L655.52,701.93"/></g><g stroke-width="0.95" stroke-linecap="round" fill="none"><path d="M648.28,692.21 L656.42,690.02" stroke="#3fa535"/><path d="M648.5,693.03 L656.64,690.84" stroke="#d2232a"/><path d="M648.72,693.85 L656.86,691.66" stroke="#2f6fc0"/><path d="M646.87,690.58 L653.63,685.56" stroke="#f08a2a"/><path d="M647.38,691.26 L654.14,686.24" stroke="#d2232a"/><path d="M647.88,691.94 L654.64,686.92" stroke="#3fa535"/><path d="M644.88,689.56 L649.21,682.34" stroke="#3fa535"/><path d="M645.61,690 L649.94,682.78" stroke="#d2232a"/><path d="M646.33,690.43 L650.67,683.21" stroke="#f08a2a"/><path d="M642.34,689.42 L643.15,681.04" stroke="#2f6fc0"/><path d="M643.19,689.5 L643.99,681.12" stroke="#e8862a"/><path d="M644.03,689.58 L644.84,681.2" stroke="#f4f0e8"/><path d="M640.32,690.17 L637.99,682.08" stroke="#f4f0e8"/><path d="M641.13,689.94 L638.8,681.84" stroke="#f0a030"/><path d="M641.95,689.7 L639.62,681.61" stroke="#d2232a"/><path d="M638.36,692.14 L632.5,686.09" stroke="#f08a2a"/><path d="M638.97,691.55 L633.11,685.5" stroke="#d2232a"/><path d="M639.58,690.96 L633.72,684.91" stroke="#3fa535"/><path d="M637.54,695.08 L629.41,692.86" stroke="#3fa535"/><path d="M637.76,694.26 L629.64,692.04" stroke="#2f6fc0"/><path d="M637.99,693.44 L629.86,691.22" stroke="#f08a2a"/><path d="M638.07,697.52 L629.77,698.93" stroke="#f08a2a"/><path d="M637.93,696.68 L629.62,698.09" stroke="#e86a3a"/><path d="M637.78,695.84 L629.48,697.26" stroke="#f08a2a"/><path d="M639.47,699.4 L632.43,704.02" stroke="#3fa535"/><path d="M639,698.69 L631.96,703.31" stroke="#2f6fc0"/><path d="M638.54,697.98 L631.49,702.6" stroke="#f08a2a"/><path d="M641.63,700.61 L637.16,707.76" stroke="#d2232a"/><path d="M640.91,700.16 L636.44,707.31" stroke="#f08a2a"/><path d="M640.18,699.71 L635.72,706.86" stroke="#3fa535"/><path d="M643.74,700.84 L642.18,709.12" stroke="#f08a2a"/><path d="M642.91,700.69 L641.35,708.96" stroke="#d2232a"/><path d="M642.07,700.53 L640.51,708.81" stroke="#d2232a"/><path d="M645.42,700.46 L646.38,708.82" stroke="#d2232a"/><path d="M644.58,700.55 L645.53,708.92" stroke="#f08a2a"/><path d="M643.73,700.65 L644.69,709.02" stroke="#3fa535"/><path d="M647.33,699.21 L651.46,706.56" stroke="#2f6fc0"/><path d="M646.59,699.63 L650.72,706.97" stroke="#d2232a"/><path d="M645.85,700.05 L649.98,707.39" stroke="#f08a2a"/><path d="M648.82,696.76 L655.97,701.21" stroke="#f08a2a"/><path d="M648.37,697.48 L655.52,701.93" stroke="#d2232a"/><path d="M647.92,698.2 L655.07,702.65" stroke="#2f6fc0"/></g><circle cx="643.3" cy="695.1" r="5.6" fill="#434343"/><rect x="626.3" y="710.4" width="29.6" height="20.6" rx="3" fill="#424242"/><rect x="626.3" y="710.4" width="29.6" height="20.6" rx="3" fill="none" stroke="#6e1a22" stroke-width="1.5"/><rect x="627.4" y="711.5" width="27.4" height="18.4" rx="2.5" fill="none" stroke="#256e24" stroke-width="1.2"/><polyline points="629.8,711 629.43,711.4 629.09,711.81 628.82,712.21 628.65,712.62 628.6,713.02 628.67,713.42 628.85,713.83 629.12,714.23 629.46,714.64 629.84,715.04 630.21,715.45 630.54,715.85 630.8,716.25 630.96,716.66 631,717.06 630.92,717.47 630.73,717.87 630.45,718.27 630.1,718.68 629.72,719.08 629.35,719.49 629.03,719.89 628.78,720.3 628.63,720.7 628.6,721.1 628.69,721.51 628.9,721.91 629.19,722.32 629.54,722.72 629.92,723.12 630.28,723.53 630.6,723.93 630.84,724.34 630.98,724.74 630.99,725.15 630.89,725.55 630.68,725.95 630.38,726.36 630.02,726.76 629.64,727.17 629.28,727.57 628.97,727.98 628.74,728.38 628.62,728.78 628.61,729.19 628.73,729.59 628.95,730 629.26,730.4" fill="none" stroke="#2a8a28" stroke-width="1.25"/><polyline points="628.9,711 629.31,711.4 629.67,711.81 629.96,712.21 630.14,712.62 630.2,713.02 630.13,713.42 629.93,713.83 629.64,714.23 629.27,714.64 628.86,715.04 628.45,715.45 628.1,715.85 627.82,716.25 627.65,716.66 627.6,717.06 627.69,717.47 627.89,717.87 628.2,718.27 628.58,718.68 628.99,719.08 629.39,719.49 629.74,719.89 630.01,720.3 630.16,720.7 630.2,721.1 630.1,721.51 629.88,721.91 629.56,722.32 629.18,722.72 628.77,723.12 628.38,723.53 628.03,723.93 627.77,724.34 627.63,724.74 627.61,725.15 627.72,725.55 627.95,725.95 628.27,726.36 628.66,726.76 629.07,727.17 629.46,727.57 629.8,727.98 630.05,728.38 630.18,728.78 630.19,729.19 630.06,729.59 629.82,730 629.49,730.4" fill="none" stroke="#8e1c28" stroke-width="1.25"/><polyline points="633.4,711 633.03,711.4 632.69,711.81 632.42,712.21 632.25,712.62 632.2,713.02 632.27,713.42 632.45,713.83 632.72,714.23 633.06,714.64 633.44,715.04 633.81,715.45 634.14,715.85 634.4,716.25 634.56,716.66 634.6,717.06 634.52,717.47 634.33,717.87 634.05,718.27 633.7,718.68 633.32,719.08 632.95,719.49 632.63,719.89 632.38,720.3 632.23,720.7 632.2,721.1 632.29,721.51 632.5,721.91 632.79,722.32 633.14,722.72 633.52,723.12 633.88,723.53 634.2,723.93 634.44,724.34 634.58,724.74 634.59,725.15 634.49,725.55 634.28,725.95 633.98,726.36 633.62,726.76 633.24,727.17 632.88,727.57 632.57,727.98 632.34,728.38 632.22,728.78 632.21,729.19 632.33,729.59 632.55,730 632.86,730.4" fill="none" stroke="#2a8a28" stroke-width="1.25"/><polyline points="632.5,711 632.91,711.4 633.27,711.81 633.56,712.21 633.74,712.62 633.8,713.02 633.73,713.42 633.53,713.83 633.24,714.23 632.87,714.64 632.46,715.04 632.05,715.45 631.7,715.85 631.42,716.25 631.25,716.66 631.2,717.06 631.29,717.47 631.49,717.87 631.8,718.27 632.18,718.68 632.59,719.08 632.99,719.49 633.34,719.89 633.61,720.3 633.76,720.7 633.8,721.1 633.7,721.51 633.48,721.91 633.16,722.32 632.78,722.72 632.37,723.12 631.98,723.53 631.63,723.93 631.37,724.34 631.23,724.74 631.21,725.15 631.32,725.55 631.55,725.95 631.87,726.36 632.26,726.76 632.67,727.17 633.06,727.57 633.4,727.98 633.65,728.38 633.78,728.78 633.79,729.19 633.66,729.59 633.42,730 633.09,730.4" fill="none" stroke="#8e1c28" stroke-width="1.25"/><polyline points="640.6,711 640.23,711.4 639.89,711.81 639.62,712.21 639.45,712.62 639.4,713.02 639.47,713.42 639.65,713.83 639.92,714.23 640.26,714.64 640.64,715.04 641.01,715.45 641.34,715.85 641.6,716.25 641.76,716.66 641.8,717.06 641.72,717.47 641.53,717.87 641.25,718.27 640.9,718.68 640.52,719.08 640.15,719.49 639.83,719.89 639.58,720.3 639.43,720.7 639.4,721.1 639.49,721.51 639.7,721.91 639.99,722.32 640.34,722.72 640.72,723.12 641.08,723.53 641.4,723.93 641.64,724.34 641.78,724.74 641.79,725.15 641.69,725.55 641.48,725.95 641.18,726.36 640.82,726.76 640.44,727.17 640.08,727.57 639.77,727.98 639.54,728.38 639.42,728.78 639.41,729.19 639.53,729.59 639.75,730 640.06,730.4" fill="none" stroke="#2a8a28" stroke-width="1.25"/><polyline points="639.7,711 640.11,711.4 640.47,711.81 640.76,712.21 640.94,712.62 641,713.02 640.93,713.42 640.73,713.83 640.44,714.23 640.07,714.64 639.66,715.04 639.25,715.45 638.9,715.85 638.62,716.25 638.45,716.66 638.4,717.06 638.49,717.47 638.69,717.87 639,718.27 639.38,718.68 639.79,719.08 640.19,719.49 640.54,719.89 640.81,720.3 640.96,720.7 641,721.1 640.9,721.51 640.68,721.91 640.36,722.32 639.98,722.72 639.57,723.12 639.18,723.53 638.83,723.93 638.57,724.34 638.43,724.74 638.41,725.15 638.52,725.55 638.75,725.95 639.07,726.36 639.46,726.76 639.87,727.17 640.26,727.57 640.6,727.98 640.85,728.38 640.98,728.78 640.99,729.19 640.86,729.59 640.62,730 640.29,730.4" fill="none" stroke="#8e1c28" stroke-width="1.25"/><polyline points="647.6,711 647.23,711.4 646.89,711.81 646.62,712.21 646.45,712.62 646.4,713.02 646.47,713.42 646.65,713.83 646.92,714.23 647.26,714.64 647.64,715.04 648.01,715.45 648.34,715.85 648.6,716.25 648.76,716.66 648.8,717.06 648.72,717.47 648.53,717.87 648.25,718.27 647.9,718.68 647.52,719.08 647.15,719.49 646.83,719.89 646.58,720.3 646.43,720.7 646.4,721.1 646.49,721.51 646.7,721.91 646.99,722.32 647.34,722.72 647.72,723.12 648.08,723.53 648.4,723.93 648.64,724.34 648.78,724.74 648.79,725.15 648.69,725.55 648.48,725.95 648.18,726.36 647.82,726.76 647.44,727.17 647.08,727.57 646.77,727.98 646.54,728.38 646.42,728.78 646.41,729.19 646.53,729.59 646.75,730 647.06,730.4" fill="none" stroke="#2a8a28" stroke-width="1.25"/><polyline points="646.7,711 647.11,711.4 647.47,711.81 647.76,712.21 647.94,712.62 648,713.02 647.93,713.42 647.73,713.83 647.44,714.23 647.07,714.64 646.66,715.04 646.25,715.45 645.9,715.85 645.62,716.25 645.45,716.66 645.4,717.06 645.49,717.47 645.69,717.87 646,718.27 646.38,718.68 646.79,719.08 647.19,719.49 647.54,719.89 647.81,720.3 647.96,720.7 648,721.1 647.9,721.51 647.68,721.91 647.36,722.32 646.98,722.72 646.57,723.12 646.18,723.53 645.83,723.93 645.57,724.34 645.43,724.74 645.41,725.15 645.52,725.55 645.75,725.95 646.07,726.36 646.46,726.76 646.87,727.17 647.26,727.57 647.6,727.98 647.85,728.38 647.98,728.78 647.99,729.19 647.86,729.59 647.62,730 647.29,730.4" fill="none" stroke="#8e1c28" stroke-width="1.25"/><polyline points="653.6,711 653.23,711.4 652.89,711.81 652.62,712.21 652.45,712.62 652.4,713.02 652.47,713.42 652.65,713.83 652.92,714.23 653.26,714.64 653.64,715.04 654.01,715.45 654.34,715.85 654.6,716.25 654.76,716.66 654.8,717.06 654.72,717.47 654.53,717.87 654.25,718.27 653.9,718.68 653.52,719.08 653.15,719.49 652.83,719.89 652.58,720.3 652.43,720.7 652.4,721.1 652.49,721.51 652.7,721.91 652.99,722.32 653.34,722.72 653.72,723.12 654.08,723.53 654.4,723.93 654.64,724.34 654.78,724.74 654.79,725.15 654.69,725.55 654.48,725.95 654.18,726.36 653.82,726.76 653.44,727.17 653.08,727.57 652.77,727.98 652.54,728.38 652.42,728.78 652.41,729.19 652.53,729.59 652.75,730 653.06,730.4" fill="none" stroke="#2a8a28" stroke-width="1.25"/><polyline points="652.7,711 653.11,711.4 653.47,711.81 653.76,712.21 653.94,712.62 654,713.02 653.93,713.42 653.73,713.83 653.44,714.23 653.07,714.64 652.66,715.04 652.25,715.45 651.9,715.85 651.62,716.25 651.45,716.66 651.4,717.06 651.49,717.47 651.69,717.87 652,718.27 652.38,718.68 652.79,719.08 653.19,719.49 653.54,719.89 653.81,720.3 653.96,720.7 654,721.1 653.9,721.51 653.68,721.91 653.36,722.32 652.98,722.72 652.57,723.12 652.18,723.53 651.83,723.93 651.57,724.34 651.43,724.74 651.41,725.15 651.52,725.55 651.75,725.95 652.07,726.36 652.46,726.76 652.87,727.17 653.26,727.57 653.6,727.98 653.85,728.38 653.98,728.78 653.99,729.19 653.86,729.59 653.62,730 653.29,730.4" fill="none" stroke="#8e1c28" stroke-width="1.25"/><circle cx="676.3" cy="695.1" r="13.1" fill="url(#torD)"/><g stroke="#151515" stroke-width="3.3" stroke-linecap="round" fill="none" opacity="0.55"><path d="M681.49,692.98 L689.6,690.73"/><path d="M680.41,691.3 L687.22,686.34"/><path d="M678.73,690.05 L683.24,682.94"/><path d="M676.29,689.5 L677.25,681.13"/><path d="M674.03,689.98 L671.52,681.94"/><path d="M671.91,691.63 L665.96,685.67"/><path d="M670.74,694.44 L662.55,692.49"/><path d="M670.89,696.54 L662.55,697.76"/><path d="M671.98,698.66 L664.9,703.22"/><path d="M673.74,700.08 L669.05,707.08"/><path d="M675.97,700.69 L674.5,708.98"/><path d="M677.82,700.49 L679.16,708.81"/><path d="M679.87,699.41 L684.46,706.48"/><path d="M681.23,697.75 L688.14,702.57"/></g><g stroke-width="0.95" stroke-linecap="round" fill="none"><path d="M681.26,692.17 L689.37,689.91" stroke="#3fa535"/><path d="M681.49,692.98 L689.6,690.73" stroke="#d2232a"/><path d="M681.71,693.8 L689.83,691.55" stroke="#2f6fc0"/><path d="M679.91,690.61 L686.72,685.65" stroke="#f08a2a"/><path d="M680.41,691.3 L687.22,686.34" stroke="#d2232a"/><path d="M680.91,691.98 L687.72,687.02" stroke="#3fa535"/><path d="M678.01,689.6 L682.52,682.48" stroke="#3fa535"/><path d="M678.73,690.05 L683.24,682.94" stroke="#d2232a"/><path d="M679.45,690.51 L683.96,683.4" stroke="#f08a2a"/><path d="M675.44,689.4 L676.4,681.04" stroke="#2f6fc0"/><path d="M676.29,689.5 L677.25,681.13" stroke="#e8862a"/><path d="M677.13,689.6 L678.09,681.23" stroke="#f4f0e8"/><path d="M673.21,690.24 L670.71,682.19" stroke="#f4f0e8"/><path d="M674.03,689.98 L671.52,681.94" stroke="#f0a030"/><path d="M674.84,689.73 L672.33,681.69" stroke="#d2232a"/><path d="M671.31,692.23 L665.35,686.27" stroke="#f08a2a"/><path d="M671.91,691.63 L665.96,685.67" stroke="#d2232a"/><path d="M672.51,691.02 L666.56,685.07" stroke="#3fa535"/><path d="M670.54,695.27 L662.35,693.32" stroke="#3fa535"/><path d="M670.74,694.44 L662.55,692.49" stroke="#2f6fc0"/><path d="M670.94,693.62 L662.74,691.66" stroke="#f08a2a"/><path d="M671.01,697.39 L662.68,698.6" stroke="#f08a2a"/><path d="M670.89,696.54 L662.55,697.76" stroke="#e86a3a"/><path d="M670.77,695.7 L662.43,696.92" stroke="#f08a2a"/><path d="M672.44,699.38 L665.36,703.94" stroke="#3fa535"/><path d="M671.98,698.66 L664.9,703.22" stroke="#2f6fc0"/><path d="M671.52,697.95 L664.44,702.51" stroke="#f08a2a"/><path d="M674.45,700.56 L669.76,707.55" stroke="#d2232a"/><path d="M673.74,700.08 L669.05,707.08" stroke="#f08a2a"/><path d="M673.04,699.61 L668.35,706.6" stroke="#3fa535"/><path d="M676.81,700.84 L675.34,709.13" stroke="#f08a2a"/><path d="M675.97,700.69 L674.5,708.98" stroke="#d2232a"/><path d="M675.13,700.54 L673.66,708.84" stroke="#d2232a"/><path d="M678.66,700.35 L680,708.67" stroke="#d2232a"/><path d="M677.82,700.49 L679.16,708.81" stroke="#f08a2a"/><path d="M676.98,700.62 L678.32,708.94" stroke="#3fa535"/><path d="M680.59,698.95 L685.17,706.02" stroke="#2f6fc0"/><path d="M679.87,699.41 L684.46,706.48" stroke="#d2232a"/><path d="M679.16,699.88 L683.74,706.94" stroke="#f08a2a"/><path d="M681.72,697.05 L688.63,701.87" stroke="#f08a2a"/><path d="M681.23,697.75 L688.14,702.57" stroke="#d2232a"/><path d="M680.75,698.45 L687.65,703.27" stroke="#2f6fc0"/></g><circle cx="676.3" cy="695.1" r="5.6" fill="#434343"/><rect x="659.6" y="710.4" width="29.6" height="20.6" rx="3" fill="#424242"/><rect x="659.6" y="710.4" width="29.6" height="20.6" rx="3" fill="none" stroke="#6e1a22" stroke-width="1.5"/><rect x="660.7" y="711.5" width="27.4" height="18.4" rx="2.5" fill="none" stroke="#256e24" stroke-width="1.2"/><polyline points="663.1,711 662.73,711.4 662.39,711.81 662.12,712.21 661.95,712.62 661.9,713.02 661.97,713.42 662.15,713.83 662.42,714.23 662.76,714.64 663.14,715.04 663.51,715.45 663.84,715.85 664.1,716.25 664.26,716.66 664.3,717.06 664.22,717.47 664.03,717.87 663.75,718.27 663.4,718.68 663.02,719.08 662.65,719.49 662.33,719.89 662.08,720.3 661.93,720.7 661.9,721.1 661.99,721.51 662.2,721.91 662.49,722.32 662.84,722.72 663.22,723.12 663.58,723.53 663.9,723.93 664.14,724.34 664.28,724.74 664.29,725.15 664.19,725.55 663.98,725.95 663.68,726.36 663.32,726.76 662.94,727.17 662.58,727.57 662.27,727.98 662.04,728.38 661.92,728.78 661.91,729.19 662.03,729.59 662.25,730 662.56,730.4" fill="none" stroke="#2a8a28" stroke-width="1.25"/><polyline points="662.2,711 662.61,711.4 662.97,711.81 663.26,712.21 663.44,712.62 663.5,713.02 663.43,713.42 663.23,713.83 662.94,714.23 662.57,714.64 662.16,715.04 661.75,715.45 661.4,715.85 661.12,716.25 660.95,716.66 660.9,717.06 660.99,717.47 661.19,717.87 661.5,718.27 661.88,718.68 662.29,719.08 662.69,719.49 663.04,719.89 663.31,720.3 663.46,720.7 663.5,721.1 663.4,721.51 663.18,721.91 662.86,722.32 662.48,722.72 662.07,723.12 661.68,723.53 661.33,723.93 661.07,724.34 660.93,724.74 660.91,725.15 661.02,725.55 661.25,725.95 661.57,726.36 661.96,726.76 662.37,727.17 662.76,727.57 663.1,727.98 663.35,728.38 663.48,728.78 663.49,729.19 663.36,729.59 663.12,730 662.79,730.4" fill="none" stroke="#8e1c28" stroke-width="1.25"/><polyline points="666.7,711 666.33,711.4 665.99,711.81 665.72,712.21 665.55,712.62 665.5,713.02 665.57,713.42 665.75,713.83 666.02,714.23 666.36,714.64 666.74,715.04 667.11,715.45 667.44,715.85 667.7,716.25 667.86,716.66 667.9,717.06 667.82,717.47 667.63,717.87 667.35,718.27 667,718.68 666.62,719.08 666.25,719.49 665.93,719.89 665.68,720.3 665.53,720.7 665.5,721.1 665.59,721.51 665.8,721.91 666.09,722.32 666.44,722.72 666.82,723.12 667.18,723.53 667.5,723.93 667.74,724.34 667.88,724.74 667.89,725.15 667.79,725.55 667.58,725.95 667.28,726.36 666.92,726.76 666.54,727.17 666.18,727.57 665.87,727.98 665.64,728.38 665.52,728.78 665.51,729.19 665.63,729.59 665.85,730 666.16,730.4" fill="none" stroke="#2a8a28" stroke-width="1.25"/><polyline points="665.8,711 666.21,711.4 666.57,711.81 666.86,712.21 667.04,712.62 667.1,713.02 667.03,713.42 666.83,713.83 666.54,714.23 666.17,714.64 665.76,715.04 665.35,715.45 665,715.85 664.72,716.25 664.55,716.66 664.5,717.06 664.59,717.47 664.79,717.87 665.1,718.27 665.48,718.68 665.89,719.08 666.29,719.49 666.64,719.89 666.91,720.3 667.06,720.7 667.1,721.1 667,721.51 666.78,721.91 666.46,722.32 666.08,722.72 665.67,723.12 665.28,723.53 664.93,723.93 664.67,724.34 664.53,724.74 664.51,725.15 664.62,725.55 664.85,725.95 665.17,726.36 665.56,726.76 665.97,727.17 666.36,727.57 666.7,727.98 666.95,728.38 667.08,728.78 667.09,729.19 666.96,729.59 666.72,730 666.39,730.4" fill="none" stroke="#8e1c28" stroke-width="1.25"/><polyline points="673.9,711 673.53,711.4 673.19,711.81 672.92,712.21 672.75,712.62 672.7,713.02 672.77,713.42 672.95,713.83 673.22,714.23 673.56,714.64 673.94,715.04 674.31,715.45 674.64,715.85 674.9,716.25 675.06,716.66 675.1,717.06 675.02,717.47 674.83,717.87 674.55,718.27 674.2,718.68 673.82,719.08 673.45,719.49 673.13,719.89 672.88,720.3 672.73,720.7 672.7,721.1 672.79,721.51 673,721.91 673.29,722.32 673.64,722.72 674.02,723.12 674.38,723.53 674.7,723.93 674.94,724.34 675.08,724.74 675.09,725.15 674.99,725.55 674.78,725.95 674.48,726.36 674.12,726.76 673.74,727.17 673.38,727.57 673.07,727.98 672.84,728.38 672.72,728.78 672.71,729.19 672.83,729.59 673.05,730 673.36,730.4" fill="none" stroke="#2a8a28" stroke-width="1.25"/><polyline points="673,711 673.41,711.4 673.77,711.81 674.06,712.21 674.24,712.62 674.3,713.02 674.23,713.42 674.03,713.83 673.74,714.23 673.37,714.64 672.96,715.04 672.55,715.45 672.2,715.85 671.92,716.25 671.75,716.66 671.7,717.06 671.79,717.47 671.99,717.87 672.3,718.27 672.68,718.68 673.09,719.08 673.49,719.49 673.84,719.89 674.11,720.3 674.26,720.7 674.3,721.1 674.2,721.51 673.98,721.91 673.66,722.32 673.28,722.72 672.87,723.12 672.48,723.53 672.13,723.93 671.87,724.34 671.73,724.74 671.71,725.15 671.82,725.55 672.05,725.95 672.37,726.36 672.76,726.76 673.17,727.17 673.56,727.57 673.9,727.98 674.15,728.38 674.28,728.78 674.29,729.19 674.16,729.59 673.92,730 673.59,730.4" fill="none" stroke="#8e1c28" stroke-width="1.25"/><polyline points="680.9,711 680.53,711.4 680.19,711.81 679.92,712.21 679.75,712.62 679.7,713.02 679.77,713.42 679.95,713.83 680.22,714.23 680.56,714.64 680.94,715.04 681.31,715.45 681.64,715.85 681.9,716.25 682.06,716.66 682.1,717.06 682.02,717.47 681.83,717.87 681.55,718.27 681.2,718.68 680.82,719.08 680.45,719.49 680.13,719.89 679.88,720.3 679.73,720.7 679.7,721.1 679.79,721.51 680,721.91 680.29,722.32 680.64,722.72 681.02,723.12 681.38,723.53 681.7,723.93 681.94,724.34 682.08,724.74 682.09,725.15 681.99,725.55 681.78,725.95 681.48,726.36 681.12,726.76 680.74,727.17 680.38,727.57 680.07,727.98 679.84,728.38 679.72,728.78 679.71,729.19 679.83,729.59 680.05,730 680.36,730.4" fill="none" stroke="#2a8a28" stroke-width="1.25"/><polyline points="680,711 680.41,711.4 680.77,711.81 681.06,712.21 681.24,712.62 681.3,713.02 681.23,713.42 681.03,713.83 680.74,714.23 680.37,714.64 679.96,715.04 679.55,715.45 679.2,715.85 678.92,716.25 678.75,716.66 678.7,717.06 678.79,717.47 678.99,717.87 679.3,718.27 679.68,718.68 680.09,719.08 680.49,719.49 680.84,719.89 681.11,720.3 681.26,720.7 681.3,721.1 681.2,721.51 680.98,721.91 680.66,722.32 680.28,722.72 679.87,723.12 679.48,723.53 679.13,723.93 678.87,724.34 678.73,724.74 678.71,725.15 678.82,725.55 679.05,725.95 679.37,726.36 679.76,726.76 680.17,727.17 680.56,727.57 680.9,727.98 681.15,728.38 681.28,728.78 681.29,729.19 681.16,729.59 680.92,730 680.59,730.4" fill="none" stroke="#8e1c28" stroke-width="1.25"/><polyline points="686.9,711 686.53,711.4 686.19,711.81 685.92,712.21 685.75,712.62 685.7,713.02 685.77,713.42 685.95,713.83 686.22,714.23 686.56,714.64 686.94,715.04 687.31,715.45 687.64,715.85 687.9,716.25 688.06,716.66 688.1,717.06 688.02,717.47 687.83,717.87 687.55,718.27 687.2,718.68 686.82,719.08 686.45,719.49 686.13,719.89 685.88,720.3 685.73,720.7 685.7,721.1 685.79,721.51 686,721.91 686.29,722.32 686.64,722.72 687.02,723.12 687.38,723.53 687.7,723.93 687.94,724.34 688.08,724.74 688.09,725.15 687.99,725.55 687.78,725.95 687.48,726.36 687.12,726.76 686.74,727.17 686.38,727.57 686.07,727.98 685.84,728.38 685.72,728.78 685.71,729.19 685.83,729.59 686.05,730 686.36,730.4" fill="none" stroke="#2a8a28" stroke-width="1.25"/><polyline points="686,711 686.41,711.4 686.77,711.81 687.06,712.21 687.24,712.62 687.3,713.02 687.23,713.42 687.03,713.83 686.74,714.23 686.37,714.64 685.96,715.04 685.55,715.45 685.2,715.85 684.92,716.25 684.75,716.66 684.7,717.06 684.79,717.47 684.99,717.87 685.3,718.27 685.68,718.68 686.09,719.08 686.49,719.49 686.84,719.89 687.11,720.3 687.26,720.7 687.3,721.1 687.2,721.51 686.98,721.91 686.66,722.32 686.28,722.72 685.87,723.12 685.48,723.53 685.13,723.93 684.87,724.34 684.73,724.74 684.71,725.15 684.82,725.55 685.05,725.95 685.37,726.36 685.76,726.76 686.17,727.17 686.56,727.57 686.9,727.98 687.15,728.38 687.28,728.78 687.29,729.19 687.16,729.59 686.92,730 686.59,730.4" fill="none" stroke="#8e1c28" stroke-width="1.25"/><circle cx="709.3" cy="695.1" r="13.1" fill="url(#torD)"/><g stroke="#151515" stroke-width="3.3" stroke-linecap="round" fill="none" opacity="0.55"><path d="M714.49,692.99 L722.61,690.75"/><path d="M713.44,691.33 L720.28,686.41"/><path d="M711.64,690.01 L716.02,682.82"/><path d="M709.16,689.5 L709.93,681.11"/><path d="M706.85,690.06 L704.07,682.11"/><path d="M704.86,691.69 L698.82,685.82"/><path d="M703.74,694.41 L695.56,692.4"/><path d="M703.86,696.43 L695.5,697.47"/><path d="M704.96,698.64 L697.86,703.18"/><path d="M706.81,700.12 L702.21,707.17"/><path d="M708.79,700.68 L707.05,708.92"/><path d="M710.69,700.53 L711.81,708.87"/><path d="M712.86,699.43 L717.41,706.51"/><path d="M714.3,697.62 L721.33,702.26"/></g><g stroke-width="0.95" stroke-linecap="round" fill="none"><path d="M714.26,692.17 L722.38,689.93" stroke="#3fa535"/><path d="M714.49,692.99 L722.61,690.75" stroke="#d2232a"/><path d="M714.71,693.81 L722.83,691.57" stroke="#2f6fc0"/><path d="M712.94,690.64 L719.78,685.72" stroke="#f08a2a"/><path d="M713.44,691.33 L720.28,686.41" stroke="#d2232a"/><path d="M713.93,692.02 L720.77,687.1" stroke="#3fa535"/><path d="M710.91,689.57 L715.29,682.38" stroke="#3fa535"/><path d="M711.64,690.01 L716.02,682.82" stroke="#d2232a"/><path d="M712.36,690.45 L716.74,683.26" stroke="#f08a2a"/><path d="M708.31,689.42 L709.08,681.04" stroke="#2f6fc0"/><path d="M709.16,689.5 L709.93,681.11" stroke="#e8862a"/><path d="M710.01,689.58 L710.78,681.19" stroke="#f4f0e8"/><path d="M706.05,690.35 L703.27,682.4" stroke="#f4f0e8"/><path d="M706.85,690.06 L704.07,682.11" stroke="#f0a030"/><path d="M707.65,689.78 L704.87,681.83" stroke="#d2232a"/><path d="M704.26,692.3 L698.22,686.43" stroke="#f08a2a"/><path d="M704.86,691.69 L698.82,685.82" stroke="#d2232a"/><path d="M705.45,691.08 L699.41,685.21" stroke="#3fa535"/><path d="M703.54,695.23 L695.36,693.23" stroke="#3fa535"/><path d="M703.74,694.41 L695.56,692.4" stroke="#2f6fc0"/><path d="M703.95,693.58 L695.76,691.58" stroke="#f08a2a"/><path d="M703.97,697.28 L695.61,698.31" stroke="#f08a2a"/><path d="M703.86,696.43 L695.5,697.47" stroke="#e86a3a"/><path d="M703.76,695.59 L695.4,696.63" stroke="#f08a2a"/><path d="M705.42,699.36 L698.32,703.89" stroke="#3fa535"/><path d="M704.96,698.64 L697.86,703.18" stroke="#2f6fc0"/><path d="M704.51,697.93 L697.41,702.46" stroke="#f08a2a"/><path d="M707.52,700.58 L702.92,707.64" stroke="#d2232a"/><path d="M706.81,700.12 L702.21,707.17" stroke="#f08a2a"/><path d="M706.1,699.65 L701.5,706.71" stroke="#3fa535"/><path d="M709.62,700.85 L707.88,709.09" stroke="#f08a2a"/><path d="M708.79,700.68 L707.05,708.92" stroke="#d2232a"/><path d="M707.96,700.5 L706.22,708.74" stroke="#d2232a"/><path d="M711.53,700.41 L712.66,708.76" stroke="#d2232a"/><path d="M710.69,700.53 L711.81,708.87" stroke="#f08a2a"/><path d="M709.85,700.64 L710.97,708.99" stroke="#3fa535"/><path d="M713.57,698.97 L718.13,706.05" stroke="#2f6fc0"/><path d="M712.86,699.43 L717.41,706.51" stroke="#d2232a"/><path d="M712.14,699.89 L716.7,706.97" stroke="#f08a2a"/><path d="M714.77,696.91 L721.8,701.55" stroke="#f08a2a"/><path d="M714.3,697.62 L721.33,702.26" stroke="#d2232a"/><path d="M713.83,698.33 L720.86,702.97" stroke="#2f6fc0"/></g><circle cx="709.3" cy="695.1" r="5.6" fill="#434343"/><rect x="692.9" y="710.4" width="29.6" height="20.6" rx="3" fill="#424242"/><rect x="692.9" y="710.4" width="29.6" height="20.6" rx="3" fill="none" stroke="#6e1a22" stroke-width="1.5"/><rect x="694" y="711.5" width="27.4" height="18.4" rx="2.5" fill="none" stroke="#256e24" stroke-width="1.2"/><polyline points="696.4,711 696.03,711.4 695.69,711.81 695.42,712.21 695.25,712.62 695.2,713.02 695.27,713.42 695.45,713.83 695.72,714.23 696.06,714.64 696.44,715.04 696.81,715.45 697.14,715.85 697.4,716.25 697.56,716.66 697.6,717.06 697.52,717.47 697.33,717.87 697.05,718.27 696.7,718.68 696.32,719.08 695.95,719.49 695.63,719.89 695.38,720.3 695.23,720.7 695.2,721.1 695.29,721.51 695.5,721.91 695.79,722.32 696.14,722.72 696.52,723.12 696.88,723.53 697.2,723.93 697.44,724.34 697.58,724.74 697.59,725.15 697.49,725.55 697.28,725.95 696.98,726.36 696.62,726.76 696.24,727.17 695.88,727.57 695.57,727.98 695.34,728.38 695.22,728.78 695.21,729.19 695.33,729.59 695.55,730 695.86,730.4" fill="none" stroke="#2a8a28" stroke-width="1.25"/><polyline points="695.5,711 695.91,711.4 696.27,711.81 696.56,712.21 696.74,712.62 696.8,713.02 696.73,713.42 696.53,713.83 696.24,714.23 695.87,714.64 695.46,715.04 695.05,715.45 694.7,715.85 694.42,716.25 694.25,716.66 694.2,717.06 694.29,717.47 694.49,717.87 694.8,718.27 695.18,718.68 695.59,719.08 695.99,719.49 696.34,719.89 696.61,720.3 696.76,720.7 696.8,721.1 696.7,721.51 696.48,721.91 696.16,722.32 695.78,722.72 695.37,723.12 694.98,723.53 694.63,723.93 694.37,724.34 694.23,724.74 694.21,725.15 694.32,725.55 694.55,725.95 694.87,726.36 695.26,726.76 695.67,727.17 696.06,727.57 696.4,727.98 696.65,728.38 696.78,728.78 696.79,729.19 696.66,729.59 696.42,730 696.09,730.4" fill="none" stroke="#8e1c28" stroke-width="1.25"/><polyline points="700,711 699.63,711.4 699.29,711.81 699.02,712.21 698.85,712.62 698.8,713.02 698.87,713.42 699.05,713.83 699.32,714.23 699.66,714.64 700.04,715.04 700.41,715.45 700.74,715.85 701,716.25 701.16,716.66 701.2,717.06 701.12,717.47 700.93,717.87 700.65,718.27 700.3,718.68 699.92,719.08 699.55,719.49 699.23,719.89 698.98,720.3 698.83,720.7 698.8,721.1 698.89,721.51 699.1,721.91 699.39,722.32 699.74,722.72 700.12,723.12 700.48,723.53 700.8,723.93 701.04,724.34 701.18,724.74 701.19,725.15 701.09,725.55 700.88,725.95 700.58,726.36 700.22,726.76 699.84,727.17 699.48,727.57 699.17,727.98 698.94,728.38 698.82,728.78 698.81,729.19 698.93,729.59 699.15,730 699.46,730.4" fill="none" stroke="#2a8a28" stroke-width="1.25"/><polyline points="699.1,711 699.51,711.4 699.87,711.81 700.16,712.21 700.34,712.62 700.4,713.02 700.33,713.42 700.13,713.83 699.84,714.23 699.47,714.64 699.06,715.04 698.65,715.45 698.3,715.85 698.02,716.25 697.85,716.66 697.8,717.06 697.89,717.47 698.09,717.87 698.4,718.27 698.78,718.68 699.19,719.08 699.59,719.49 699.94,719.89 700.21,720.3 700.36,720.7 700.4,721.1 700.3,721.51 700.08,721.91 699.76,722.32 699.38,722.72 698.97,723.12 698.58,723.53 698.23,723.93 697.97,724.34 697.83,724.74 697.81,725.15 697.92,725.55 698.15,725.95 698.47,726.36 698.86,726.76 699.27,727.17 699.66,727.57 700,727.98 700.25,728.38 700.38,728.78 700.39,729.19 700.26,729.59 700.02,730 699.69,730.4" fill="none" stroke="#8e1c28" stroke-width="1.25"/><polyline points="707.2,711 706.83,711.4 706.49,711.81 706.22,712.21 706.05,712.62 706,713.02 706.07,713.42 706.25,713.83 706.52,714.23 706.86,714.64 707.24,715.04 707.61,715.45 707.94,715.85 708.2,716.25 708.36,716.66 708.4,717.06 708.32,717.47 708.13,717.87 707.85,718.27 707.5,718.68 707.12,719.08 706.75,719.49 706.43,719.89 706.18,720.3 706.03,720.7 706,721.1 706.09,721.51 706.3,721.91 706.59,722.32 706.94,722.72 707.32,723.12 707.68,723.53 708,723.93 708.24,724.34 708.38,724.74 708.39,725.15 708.29,725.55 708.08,725.95 707.78,726.36 707.42,726.76 707.04,727.17 706.68,727.57 706.37,727.98 706.14,728.38 706.02,728.78 706.01,729.19 706.13,729.59 706.35,730 706.66,730.4" fill="none" stroke="#2a8a28" stroke-width="1.25"/><polyline points="706.3,711 706.71,711.4 707.07,711.81 707.36,712.21 707.54,712.62 707.6,713.02 707.53,713.42 707.33,713.83 707.04,714.23 706.67,714.64 706.26,715.04 705.85,715.45 705.5,715.85 705.22,716.25 705.05,716.66 705,717.06 705.09,717.47 705.29,717.87 705.6,718.27 705.98,718.68 706.39,719.08 706.79,719.49 707.14,719.89 707.41,720.3 707.56,720.7 707.6,721.1 707.5,721.51 707.28,721.91 706.96,722.32 706.58,722.72 706.17,723.12 705.78,723.53 705.43,723.93 705.17,724.34 705.03,724.74 705.01,725.15 705.12,725.55 705.35,725.95 705.67,726.36 706.06,726.76 706.47,727.17 706.86,727.57 707.2,727.98 707.45,728.38 707.58,728.78 707.59,729.19 707.46,729.59 707.22,730 706.89,730.4" fill="none" stroke="#8e1c28" stroke-width="1.25"/><polyline points="714.2,711 713.83,711.4 713.49,711.81 713.22,712.21 713.05,712.62 713,713.02 713.07,713.42 713.25,713.83 713.52,714.23 713.86,714.64 714.24,715.04 714.61,715.45 714.94,715.85 715.2,716.25 715.36,716.66 715.4,717.06 715.32,717.47 715.13,717.87 714.85,718.27 714.5,718.68 714.12,719.08 713.75,719.49 713.43,719.89 713.18,720.3 713.03,720.7 713,721.1 713.09,721.51 713.3,721.91 713.59,722.32 713.94,722.72 714.32,723.12 714.68,723.53 715,723.93 715.24,724.34 715.38,724.74 715.39,725.15 715.29,725.55 715.08,725.95 714.78,726.36 714.42,726.76 714.04,727.17 713.68,727.57 713.37,727.98 713.14,728.38 713.02,728.78 713.01,729.19 713.13,729.59 713.35,730 713.66,730.4" fill="none" stroke="#2a8a28" stroke-width="1.25"/><polyline points="713.3,711 713.71,711.4 714.07,711.81 714.36,712.21 714.54,712.62 714.6,713.02 714.53,713.42 714.33,713.83 714.04,714.23 713.67,714.64 713.26,715.04 712.85,715.45 712.5,715.85 712.22,716.25 712.05,716.66 712,717.06 712.09,717.47 712.29,717.87 712.6,718.27 712.98,718.68 713.39,719.08 713.79,719.49 714.14,719.89 714.41,720.3 714.56,720.7 714.6,721.1 714.5,721.51 714.28,721.91 713.96,722.32 713.58,722.72 713.17,723.12 712.78,723.53 712.43,723.93 712.17,724.34 712.03,724.74 712.01,725.15 712.12,725.55 712.35,725.95 712.67,726.36 713.06,726.76 713.47,727.17 713.86,727.57 714.2,727.98 714.45,728.38 714.58,728.78 714.59,729.19 714.46,729.59 714.22,730 713.89,730.4" fill="none" stroke="#8e1c28" stroke-width="1.25"/><polyline points="720.2,711 719.83,711.4 719.49,711.81 719.22,712.21 719.05,712.62 719,713.02 719.07,713.42 719.25,713.83 719.52,714.23 719.86,714.64 720.24,715.04 720.61,715.45 720.94,715.85 721.2,716.25 721.36,716.66 721.4,717.06 721.32,717.47 721.13,717.87 720.85,718.27 720.5,718.68 720.12,719.08 719.75,719.49 719.43,719.89 719.18,720.3 719.03,720.7 719,721.1 719.09,721.51 719.3,721.91 719.59,722.32 719.94,722.72 720.32,723.12 720.68,723.53 721,723.93 721.24,724.34 721.38,724.74 721.39,725.15 721.29,725.55 721.08,725.95 720.78,726.36 720.42,726.76 720.04,727.17 719.68,727.57 719.37,727.98 719.14,728.38 719.02,728.78 719.01,729.19 719.13,729.59 719.35,730 719.66,730.4" fill="none" stroke="#2a8a28" stroke-width="1.25"/><polyline points="719.3,711 719.71,711.4 720.07,711.81 720.36,712.21 720.54,712.62 720.6,713.02 720.53,713.42 720.33,713.83 720.04,714.23 719.67,714.64 719.26,715.04 718.85,715.45 718.5,715.85 718.22,716.25 718.05,716.66 718,717.06 718.09,717.47 718.29,717.87 718.6,718.27 718.98,718.68 719.39,719.08 719.79,719.49 720.14,719.89 720.41,720.3 720.56,720.7 720.6,721.1 720.5,721.51 720.28,721.91 719.96,722.32 719.58,722.72 719.17,723.12 718.78,723.53 718.43,723.93 718.17,724.34 718.03,724.74 718.01,725.15 718.12,725.55 718.35,725.95 718.67,726.36 719.06,726.76 719.47,727.17 719.86,727.57 720.2,727.98 720.45,728.38 720.58,728.78 720.59,729.19 720.46,729.59 720.22,730 719.89,730.4" fill="none" stroke="#8e1c28" stroke-width="1.25"/><circle cx="742.3" cy="695.1" r="13.1" fill="url(#torD)"/><g stroke="#151515" stroke-width="3.3" stroke-linecap="round" fill="none" opacity="0.55"><path d="M747.46,692.92 L755.54,690.55"/><path d="M746.44,691.33 L753.29,686.43"/><path d="M744.64,690.01 L749.03,682.83"/><path d="M742.44,689.5 L743.62,681.16"/><path d="M739.91,690.04 L737.23,682.05"/><path d="M737.82,691.74 L731.72,685.93"/><path d="M736.74,694.46 L728.54,692.52"/><path d="M736.92,696.65 L728.61,698.03"/><path d="M737.95,698.63 L730.84,703.14"/><path d="M739.98,700.19 L735.61,707.4"/><path d="M741.8,700.68 L740.08,708.92"/><path d="M743.86,700.48 L745.24,708.79"/><path d="M745.81,699.46 L750.29,706.59"/><path d="M747.3,697.62 L754.33,702.26"/></g><g stroke-width="0.95" stroke-linecap="round" fill="none"><path d="M747.22,692.1 L755.3,689.74" stroke="#3fa535"/><path d="M747.46,692.92 L755.54,690.55" stroke="#d2232a"/><path d="M747.69,693.73 L755.78,691.37" stroke="#2f6fc0"/><path d="M745.95,690.64 L752.8,685.74" stroke="#f08a2a"/><path d="M746.44,691.33 L753.29,686.43" stroke="#d2232a"/><path d="M746.94,692.03 L753.79,687.12" stroke="#3fa535"/><path d="M743.92,689.57 L748.31,682.38" stroke="#3fa535"/><path d="M744.64,690.01 L749.03,682.83" stroke="#d2232a"/><path d="M745.37,690.46 L749.76,683.27" stroke="#f08a2a"/><path d="M741.59,689.38 L742.78,681.04" stroke="#2f6fc0"/><path d="M742.44,689.5 L743.62,681.16" stroke="#e8862a"/><path d="M743.28,689.62 L744.46,681.28" stroke="#f4f0e8"/><path d="M739.1,690.31 L736.42,682.32" stroke="#f4f0e8"/><path d="M739.91,690.04 L737.23,682.05" stroke="#f0a030"/><path d="M740.72,689.76 L738.03,681.78" stroke="#d2232a"/><path d="M737.24,692.35 L731.14,686.54" stroke="#f08a2a"/><path d="M737.82,691.74 L731.72,685.93" stroke="#d2232a"/><path d="M738.41,691.12 L732.31,685.31" stroke="#3fa535"/><path d="M736.54,695.28 L728.34,693.35" stroke="#3fa535"/><path d="M736.74,694.46 L728.54,692.52" stroke="#2f6fc0"/><path d="M736.93,693.63 L728.73,691.7" stroke="#f08a2a"/><path d="M737.06,697.49 L728.75,698.87" stroke="#f08a2a"/><path d="M736.92,696.65 L728.61,698.03" stroke="#e86a3a"/><path d="M736.78,695.81 L728.47,697.19" stroke="#f08a2a"/><path d="M738.41,699.35 L731.29,703.86" stroke="#3fa535"/><path d="M737.95,698.63 L730.84,703.14" stroke="#2f6fc0"/><path d="M737.5,697.91 L730.38,702.42" stroke="#f08a2a"/><path d="M740.7,700.64 L736.34,707.84" stroke="#d2232a"/><path d="M739.98,700.19 L735.61,707.4" stroke="#f08a2a"/><path d="M739.25,699.75 L734.89,706.96" stroke="#3fa535"/><path d="M742.63,700.85 L740.91,709.1" stroke="#f08a2a"/><path d="M741.8,700.68 L740.08,708.92" stroke="#d2232a"/><path d="M740.97,700.5 L739.25,708.75" stroke="#d2232a"/><path d="M744.7,700.34 L746.08,708.65" stroke="#d2232a"/><path d="M743.86,700.48 L745.24,708.79" stroke="#f08a2a"/><path d="M743.02,700.62 L744.4,708.93" stroke="#3fa535"/><path d="M746.53,699.01 L751.01,706.14" stroke="#2f6fc0"/><path d="M745.81,699.46 L750.29,706.59" stroke="#d2232a"/><path d="M745.09,699.92 L749.57,707.05" stroke="#f08a2a"/><path d="M747.77,696.91 L754.8,701.55" stroke="#f08a2a"/><path d="M747.3,697.62 L754.33,702.26" stroke="#d2232a"/><path d="M746.83,698.33 L753.87,702.96" stroke="#2f6fc0"/></g><circle cx="742.3" cy="695.1" r="5.6" fill="#434343"/><rect x="726.2" y="710.4" width="29.6" height="20.6" rx="3" fill="#424242"/><rect x="726.2" y="710.4" width="29.6" height="20.6" rx="3" fill="none" stroke="#6e1a22" stroke-width="1.5"/><rect x="727.3" y="711.5" width="27.4" height="18.4" rx="2.5" fill="none" stroke="#256e24" stroke-width="1.2"/><polyline points="729.7,711 729.33,711.4 728.99,711.81 728.72,712.21 728.55,712.62 728.5,713.02 728.57,713.42 728.75,713.83 729.02,714.23 729.36,714.64 729.74,715.04 730.11,715.45 730.44,715.85 730.7,716.25 730.86,716.66 730.9,717.06 730.82,717.47 730.63,717.87 730.35,718.27 730,718.68 729.62,719.08 729.25,719.49 728.93,719.89 728.68,720.3 728.53,720.7 728.5,721.1 728.59,721.51 728.8,721.91 729.09,722.32 729.44,722.72 729.82,723.12 730.18,723.53 730.5,723.93 730.74,724.34 730.88,724.74 730.89,725.15 730.79,725.55 730.58,725.95 730.28,726.36 729.92,726.76 729.54,727.17 729.18,727.57 728.87,727.98 728.64,728.38 728.52,728.78 728.51,729.19 728.63,729.59 728.85,730 729.16,730.4" fill="none" stroke="#2a8a28" stroke-width="1.25"/><polyline points="728.8,711 729.21,711.4 729.57,711.81 729.86,712.21 730.04,712.62 730.1,713.02 730.03,713.42 729.83,713.83 729.54,714.23 729.17,714.64 728.76,715.04 728.35,715.45 728,715.85 727.72,716.25 727.55,716.66 727.5,717.06 727.59,717.47 727.79,717.87 728.1,718.27 728.48,718.68 728.89,719.08 729.29,719.49 729.64,719.89 729.91,720.3 730.06,720.7 730.1,721.1 730,721.51 729.78,721.91 729.46,722.32 729.08,722.72 728.67,723.12 728.28,723.53 727.93,723.93 727.67,724.34 727.53,724.74 727.51,725.15 727.62,725.55 727.85,725.95 728.17,726.36 728.56,726.76 728.97,727.17 729.36,727.57 729.7,727.98 729.95,728.38 730.08,728.78 730.09,729.19 729.96,729.59 729.72,730 729.39,730.4" fill="none" stroke="#8e1c28" stroke-width="1.25"/><polyline points="733.3,711 732.93,711.4 732.59,711.81 732.32,712.21 732.15,712.62 732.1,713.02 732.17,713.42 732.35,713.83 732.62,714.23 732.96,714.64 733.34,715.04 733.71,715.45 734.04,715.85 734.3,716.25 734.46,716.66 734.5,717.06 734.42,717.47 734.23,717.87 733.95,718.27 733.6,718.68 733.22,719.08 732.85,719.49 732.53,719.89 732.28,720.3 732.13,720.7 732.1,721.1 732.19,721.51 732.4,721.91 732.69,722.32 733.04,722.72 733.42,723.12 733.78,723.53 734.1,723.93 734.34,724.34 734.48,724.74 734.49,725.15 734.39,725.55 734.18,725.95 733.88,726.36 733.52,726.76 733.14,727.17 732.78,727.57 732.47,727.98 732.24,728.38 732.12,728.78 732.11,729.19 732.23,729.59 732.45,730 732.76,730.4" fill="none" stroke="#2a8a28" stroke-width="1.25"/><polyline points="732.4,711 732.81,711.4 733.17,711.81 733.46,712.21 733.64,712.62 733.7,713.02 733.63,713.42 733.43,713.83 733.14,714.23 732.77,714.64 732.36,715.04 731.95,715.45 731.6,715.85 731.32,716.25 731.15,716.66 731.1,717.06 731.19,717.47 731.39,717.87 731.7,718.27 732.08,718.68 732.49,719.08 732.89,719.49 733.24,719.89 733.51,720.3 733.66,720.7 733.7,721.1 733.6,721.51 733.38,721.91 733.06,722.32 732.68,722.72 732.27,723.12 731.88,723.53 731.53,723.93 731.27,724.34 731.13,724.74 731.11,725.15 731.22,725.55 731.45,725.95 731.77,726.36 732.16,726.76 732.57,727.17 732.96,727.57 733.3,727.98 733.55,728.38 733.68,728.78 733.69,729.19 733.56,729.59 733.32,730 732.99,730.4" fill="none" stroke="#8e1c28" stroke-width="1.25"/><polyline points="740.5,711 740.13,711.4 739.79,711.81 739.52,712.21 739.35,712.62 739.3,713.02 739.37,713.42 739.55,713.83 739.82,714.23 740.16,714.64 740.54,715.04 740.91,715.45 741.24,715.85 741.5,716.25 741.66,716.66 741.7,717.06 741.62,717.47 741.43,717.87 741.15,718.27 740.8,718.68 740.42,719.08 740.05,719.49 739.73,719.89 739.48,720.3 739.33,720.7 739.3,721.1 739.39,721.51 739.6,721.91 739.89,722.32 740.24,722.72 740.62,723.12 740.98,723.53 741.3,723.93 741.54,724.34 741.68,724.74 741.69,725.15 741.59,725.55 741.38,725.95 741.08,726.36 740.72,726.76 740.34,727.17 739.98,727.57 739.67,727.98 739.44,728.38 739.32,728.78 739.31,729.19 739.43,729.59 739.65,730 739.96,730.4" fill="none" stroke="#2a8a28" stroke-width="1.25"/><polyline points="739.6,711 740.01,711.4 740.37,711.81 740.66,712.21 740.84,712.62 740.9,713.02 740.83,713.42 740.63,713.83 740.34,714.23 739.97,714.64 739.56,715.04 739.15,715.45 738.8,715.85 738.52,716.25 738.35,716.66 738.3,717.06 738.39,717.47 738.59,717.87 738.9,718.27 739.28,718.68 739.69,719.08 740.09,719.49 740.44,719.89 740.71,720.3 740.86,720.7 740.9,721.1 740.8,721.51 740.58,721.91 740.26,722.32 739.88,722.72 739.47,723.12 739.08,723.53 738.73,723.93 738.47,724.34 738.33,724.74 738.31,725.15 738.42,725.55 738.65,725.95 738.97,726.36 739.36,726.76 739.77,727.17 740.16,727.57 740.5,727.98 740.75,728.38 740.88,728.78 740.89,729.19 740.76,729.59 740.52,730 740.19,730.4" fill="none" stroke="#8e1c28" stroke-width="1.25"/><polyline points="747.5,711 747.13,711.4 746.79,711.81 746.52,712.21 746.35,712.62 746.3,713.02 746.37,713.42 746.55,713.83 746.82,714.23 747.16,714.64 747.54,715.04 747.91,715.45 748.24,715.85 748.5,716.25 748.66,716.66 748.7,717.06 748.62,717.47 748.43,717.87 748.15,718.27 747.8,718.68 747.42,719.08 747.05,719.49 746.73,719.89 746.48,720.3 746.33,720.7 746.3,721.1 746.39,721.51 746.6,721.91 746.89,722.32 747.24,722.72 747.62,723.12 747.98,723.53 748.3,723.93 748.54,724.34 748.68,724.74 748.69,725.15 748.59,725.55 748.38,725.95 748.08,726.36 747.72,726.76 747.34,727.17 746.98,727.57 746.67,727.98 746.44,728.38 746.32,728.78 746.31,729.19 746.43,729.59 746.65,730 746.96,730.4" fill="none" stroke="#2a8a28" stroke-width="1.25"/><polyline points="746.6,711 747.01,711.4 747.37,711.81 747.66,712.21 747.84,712.62 747.9,713.02 747.83,713.42 747.63,713.83 747.34,714.23 746.97,714.64 746.56,715.04 746.15,715.45 745.8,715.85 745.52,716.25 745.35,716.66 745.3,717.06 745.39,717.47 745.59,717.87 745.9,718.27 746.28,718.68 746.69,719.08 747.09,719.49 747.44,719.89 747.71,720.3 747.86,720.7 747.9,721.1 747.8,721.51 747.58,721.91 747.26,722.32 746.88,722.72 746.47,723.12 746.08,723.53 745.73,723.93 745.47,724.34 745.33,724.74 745.31,725.15 745.42,725.55 745.65,725.95 745.97,726.36 746.36,726.76 746.77,727.17 747.16,727.57 747.5,727.98 747.75,728.38 747.88,728.78 747.89,729.19 747.76,729.59 747.52,730 747.19,730.4" fill="none" stroke="#8e1c28" stroke-width="1.25"/><polyline points="753.5,711 753.13,711.4 752.79,711.81 752.52,712.21 752.35,712.62 752.3,713.02 752.37,713.42 752.55,713.83 752.82,714.23 753.16,714.64 753.54,715.04 753.91,715.45 754.24,715.85 754.5,716.25 754.66,716.66 754.7,717.06 754.62,717.47 754.43,717.87 754.15,718.27 753.8,718.68 753.42,719.08 753.05,719.49 752.73,719.89 752.48,720.3 752.33,720.7 752.3,721.1 752.39,721.51 752.6,721.91 752.89,722.32 753.24,722.72 753.62,723.12 753.98,723.53 754.3,723.93 754.54,724.34 754.68,724.74 754.69,725.15 754.59,725.55 754.38,725.95 754.08,726.36 753.72,726.76 753.34,727.17 752.98,727.57 752.67,727.98 752.44,728.38 752.32,728.78 752.31,729.19 752.43,729.59 752.65,730 752.96,730.4" fill="none" stroke="#2a8a28" stroke-width="1.25"/><polyline points="752.6,711 753.01,711.4 753.37,711.81 753.66,712.21 753.84,712.62 753.9,713.02 753.83,713.42 753.63,713.83 753.34,714.23 752.97,714.64 752.56,715.04 752.15,715.45 751.8,715.85 751.52,716.25 751.35,716.66 751.3,717.06 751.39,717.47 751.59,717.87 751.9,718.27 752.28,718.68 752.69,719.08 753.09,719.49 753.44,719.89 753.71,720.3 753.86,720.7 753.9,721.1 753.8,721.51 753.58,721.91 753.26,722.32 752.88,722.72 752.47,723.12 752.08,723.53 751.73,723.93 751.47,724.34 751.33,724.74 751.31,725.15 751.42,725.55 751.65,725.95 751.97,726.36 752.36,726.76 752.77,727.17 753.16,727.57 753.5,727.98 753.75,728.38 753.88,728.78 753.89,729.19 753.76,729.59 753.52,730 753.19,730.4" fill="none" stroke="#8e1c28" stroke-width="1.25"/></g>
<text transform="translate(39.03,177.65) scale(0.990,1)" font-size="12.2" fill="#151515" stroke="#151515" stroke-width="0.52" stroke-linejoin="round" text-anchor="middle">D+</text>
<text transform="translate(65.38,177.65) scale(0.950,1)" font-size="12.2" fill="#151515" stroke="#151515" stroke-width="0.52" stroke-linejoin="round" text-anchor="middle">1</text>
<text transform="translate(38.7,232.55) scale(0.895,1)" font-size="12.2" fill="#151515" stroke="#151515" stroke-width="0.52" stroke-linejoin="round" text-anchor="middle">TD</text>
<text transform="translate(64.57,232.55) scale(1.090,1)" font-size="12.2" fill="#151515" stroke="#151515" stroke-width="0.52" stroke-linejoin="round" text-anchor="middle">2</text>
<text transform="translate(38.97,280.65) scale(1.060,1)" font-size="12.2" fill="#151515" stroke="#151515" stroke-width="0.52" stroke-linejoin="round" text-anchor="middle">D-</text>
<text transform="translate(64.63,280.65) scale(1.090,1)" font-size="12.2" fill="#151515" stroke="#151515" stroke-width="0.52" stroke-linejoin="round" text-anchor="middle">3</text>
<text transform="translate(364.73,176.85) scale(1.090,1)" font-size="12.2" fill="#151515" stroke="#151515" stroke-width="0.52" stroke-linejoin="round" text-anchor="middle">12</text>
<text transform="translate(399.26,177.25) scale(0.970,1)" font-size="12.2" fill="#151515" stroke="#151515" stroke-width="0.52" stroke-linejoin="round" text-anchor="middle">X+</text>
<text transform="translate(364.34,229.95) scale(1.020,1)" font-size="12.2" fill="#151515" stroke="#151515" stroke-width="0.52" stroke-linejoin="round" text-anchor="middle">11</text>
<text transform="translate(396.9,229.95) scale(0.875,1)" font-size="12.2" fill="#151515" stroke="#151515" stroke-width="0.52" stroke-linejoin="round" text-anchor="middle">TX</text>
<text transform="translate(365.11,280.35) scale(1.090,1)" font-size="12.2" fill="#151515" stroke="#151515" stroke-width="0.52" stroke-linejoin="round" text-anchor="middle">10</text>
<text transform="translate(399.08,280.35) scale(1.060,1)" font-size="12.2" fill="#151515" stroke="#151515" stroke-width="0.52" stroke-linejoin="round" text-anchor="middle">X-</text>
<text transform="translate(39.15,317.35) scale(0.990,1)" font-size="12.2" fill="#151515" stroke="#151515" stroke-width="0.52" stroke-linejoin="round" text-anchor="middle">D+</text>
<text transform="translate(65.22,317.35) scale(1.090,1)" font-size="12.2" fill="#151515" stroke="#151515" stroke-width="0.52" stroke-linejoin="round" text-anchor="middle">4</text>
<text transform="translate(39.17,369.95) scale(0.930,1)" font-size="12.2" fill="#151515" stroke="#151515" stroke-width="0.52" stroke-linejoin="round" text-anchor="middle">RD</text>
<text transform="translate(65.25,369.95) scale(1.090,1)" font-size="12.2" fill="#151515" stroke="#151515" stroke-width="0.52" stroke-linejoin="round" text-anchor="middle">5</text>
<text transform="translate(40.06,420.75) scale(1.060,1)" font-size="12.2" fill="#151515" stroke="#151515" stroke-width="0.52" stroke-linejoin="round" text-anchor="middle">D-</text>
<text transform="translate(65.53,420.75) scale(1.090,1)" font-size="12.2" fill="#151515" stroke="#151515" stroke-width="0.52" stroke-linejoin="round" text-anchor="middle">6</text>
<text transform="translate(362.16,316.85) scale(1.090,1)" font-size="12.2" fill="#151515" stroke="#151515" stroke-width="0.52" stroke-linejoin="round" text-anchor="middle">9</text>
<text transform="translate(393.34,317.35) scale(0.970,1)" font-size="12.2" fill="#151515" stroke="#151515" stroke-width="0.52" stroke-linejoin="round" text-anchor="middle">X+</text>
<text transform="translate(363.1,369.75) scale(1.090,1)" font-size="12.2" fill="#151515" stroke="#151515" stroke-width="0.52" stroke-linejoin="round" text-anchor="middle">8</text>
<text transform="translate(391.58,369.75) scale(0.875,1)" font-size="12.2" fill="#151515" stroke="#151515" stroke-width="0.52" stroke-linejoin="round" text-anchor="middle">TX</text>
<text transform="translate(363.01,422.45) scale(1.090,1)" font-size="12.2" fill="#151515" stroke="#151515" stroke-width="0.52" stroke-linejoin="round" text-anchor="middle">7</text>
<text transform="translate(393.29,422.45) scale(1.060,1)" font-size="12.2" fill="#151515" stroke="#151515" stroke-width="0.52" stroke-linejoin="round" text-anchor="middle">X-</text>
<text transform="translate(647.44,89.95) scale(0.990,1)" font-size="11.5" fill="#151515" stroke="#151515" stroke-width="0.52" stroke-linejoin="round" text-anchor="middle">D+</text>
<text transform="translate(671.89,89.95) scale(0.950,1)" font-size="11.5" fill="#151515" stroke="#151515" stroke-width="0.52" stroke-linejoin="round" text-anchor="middle">1</text>
<text transform="translate(646.7,142.55) scale(0.895,1)" font-size="11.5" fill="#151515" stroke="#151515" stroke-width="0.52" stroke-linejoin="round" text-anchor="middle">TD</text>
<text transform="translate(671.33,142.55) scale(1.090,1)" font-size="11.5" fill="#151515" stroke="#151515" stroke-width="0.52" stroke-linejoin="round" text-anchor="middle">2</text>
<text transform="translate(647.16,189.45) scale(1.060,1)" font-size="11.5" fill="#151515" stroke="#151515" stroke-width="0.52" stroke-linejoin="round" text-anchor="middle">D-</text>
<text transform="translate(671.47,189.45) scale(1.090,1)" font-size="11.5" fill="#151515" stroke="#151515" stroke-width="0.52" stroke-linejoin="round" text-anchor="middle">3</text>
<text transform="translate(960.43,89.05) scale(1.090,1)" font-size="11.5" fill="#151515" stroke="#151515" stroke-width="0.52" stroke-linejoin="round" text-anchor="middle">24</text>
<text transform="translate(993.67,89.05) scale(0.970,1)" font-size="11.5" fill="#151515" stroke="#151515" stroke-width="0.52" stroke-linejoin="round" text-anchor="middle">X+</text>
<text transform="translate(960.56,140.25) scale(1.090,1)" font-size="11.5" fill="#151515" stroke="#151515" stroke-width="0.52" stroke-linejoin="round" text-anchor="middle">23</text>
<text transform="translate(991.7,140.25) scale(0.875,1)" font-size="11.5" fill="#151515" stroke="#151515" stroke-width="0.52" stroke-linejoin="round" text-anchor="middle">TX</text>
<text transform="translate(961.15,188.55) scale(1.090,1)" font-size="11.5" fill="#151515" stroke="#151515" stroke-width="0.52" stroke-linejoin="round" text-anchor="middle">22</text>
<text transform="translate(993.69,188.55) scale(1.060,1)" font-size="11.5" fill="#151515" stroke="#151515" stroke-width="0.52" stroke-linejoin="round" text-anchor="middle">X-</text>
<text transform="translate(647.43,224.25) scale(0.990,1)" font-size="11.5" fill="#151515" stroke="#151515" stroke-width="0.52" stroke-linejoin="round" text-anchor="middle">D+</text>
<text transform="translate(672.62,224.25) scale(1.090,1)" font-size="11.5" fill="#151515" stroke="#151515" stroke-width="0.52" stroke-linejoin="round" text-anchor="middle">4</text>
<text transform="translate(647.86,275.25) scale(0.895,1)" font-size="11.5" fill="#151515" stroke="#151515" stroke-width="0.52" stroke-linejoin="round" text-anchor="middle">TD</text>
<text transform="translate(672.29,275.25) scale(1.090,1)" font-size="11.5" fill="#151515" stroke="#151515" stroke-width="0.52" stroke-linejoin="round" text-anchor="middle">5</text>
<text transform="translate(648.45,323.55) scale(1.060,1)" font-size="11.5" fill="#151515" stroke="#151515" stroke-width="0.52" stroke-linejoin="round" text-anchor="middle">D-</text>
<text transform="translate(672.73,323.55) scale(1.090,1)" font-size="11.5" fill="#151515" stroke="#151515" stroke-width="0.52" stroke-linejoin="round" text-anchor="middle">6</text>
<text transform="translate(958.97,224.05) scale(1.090,1)" font-size="11.5" fill="#151515" stroke="#151515" stroke-width="0.52" stroke-linejoin="round" text-anchor="middle">21</text>
<text transform="translate(990.49,224.05) scale(0.970,1)" font-size="11.5" fill="#151515" stroke="#151515" stroke-width="0.52" stroke-linejoin="round" text-anchor="middle">X+</text>
<text transform="translate(960.36,274.75) scale(1.090,1)" font-size="11.5" fill="#151515" stroke="#151515" stroke-width="0.52" stroke-linejoin="round" text-anchor="middle">20</text>
<text transform="translate(988.59,274.75) scale(0.875,1)" font-size="11.5" fill="#151515" stroke="#151515" stroke-width="0.52" stroke-linejoin="round" text-anchor="middle">TX</text>
<text transform="translate(960.72,325.65) scale(1.090,1)" font-size="11.5" fill="#151515" stroke="#151515" stroke-width="0.52" stroke-linejoin="round" text-anchor="middle">19</text>
<text transform="translate(990.3,325.65) scale(1.060,1)" font-size="11.5" fill="#151515" stroke="#151515" stroke-width="0.52" stroke-linejoin="round" text-anchor="middle">X-</text>
<text transform="translate(647.44,359.95) scale(0.990,1)" font-size="11.5" fill="#151515" stroke="#151515" stroke-width="0.52" stroke-linejoin="round" text-anchor="middle">D+</text>
<text transform="translate(672.39,359.95) scale(1.090,1)" font-size="11.5" fill="#151515" stroke="#151515" stroke-width="0.52" stroke-linejoin="round" text-anchor="middle">7</text>
<text transform="translate(646.7,412.55) scale(0.895,1)" font-size="11.5" fill="#151515" stroke="#151515" stroke-width="0.52" stroke-linejoin="round" text-anchor="middle">TD</text>
<text transform="translate(671.36,412.55) scale(1.090,1)" font-size="11.5" fill="#151515" stroke="#151515" stroke-width="0.52" stroke-linejoin="round" text-anchor="middle">8</text>
<text transform="translate(647.16,459.05) scale(1.060,1)" font-size="11.5" fill="#151515" stroke="#151515" stroke-width="0.52" stroke-linejoin="round" text-anchor="middle">D-</text>
<text transform="translate(671.24,459.05) scale(1.090,1)" font-size="11.5" fill="#151515" stroke="#151515" stroke-width="0.52" stroke-linejoin="round" text-anchor="middle">9</text>
<text transform="translate(960.76,359.05) scale(1.090,1)" font-size="11.5" fill="#151515" stroke="#151515" stroke-width="0.52" stroke-linejoin="round" text-anchor="middle">18</text>
<text transform="translate(993.67,359.05) scale(0.970,1)" font-size="11.5" fill="#151515" stroke="#151515" stroke-width="0.52" stroke-linejoin="round" text-anchor="middle">X+</text>
<text transform="translate(960.3,409.95) scale(1.090,1)" font-size="11.5" fill="#151515" stroke="#151515" stroke-width="0.52" stroke-linejoin="round" text-anchor="middle">17</text>
<text transform="translate(991.7,409.95) scale(0.875,1)" font-size="11.5" fill="#151515" stroke="#151515" stroke-width="0.52" stroke-linejoin="round" text-anchor="middle">TX</text>
<text transform="translate(961.33,458.35) scale(1.090,1)" font-size="11.5" fill="#151515" stroke="#151515" stroke-width="0.52" stroke-linejoin="round" text-anchor="middle">16</text>
<text transform="translate(993.69,458.35) scale(1.060,1)" font-size="11.5" fill="#151515" stroke="#151515" stroke-width="0.52" stroke-linejoin="round" text-anchor="middle">X-</text>
<text transform="translate(643.79,493.75) scale(0.990,1)" font-size="11.5" fill="#151515" stroke="#151515" stroke-width="0.52" stroke-linejoin="round" text-anchor="middle">D+</text>
<text transform="translate(672.52,493.75) scale(1.090,1)" font-size="11.5" fill="#151515" stroke="#151515" stroke-width="0.52" stroke-linejoin="round" text-anchor="middle">10</text>
<text transform="translate(644.03,544.95) scale(0.895,1)" font-size="11.5" fill="#151515" stroke="#151515" stroke-width="0.52" stroke-linejoin="round" text-anchor="middle">TD</text>
<text transform="translate(672.03,544.95) scale(1.020,1)" font-size="11.5" fill="#151515" stroke="#151515" stroke-width="0.52" stroke-linejoin="round" text-anchor="middle">11</text>
<text transform="translate(644.68,593.55) scale(1.060,1)" font-size="11.5" fill="#151515" stroke="#151515" stroke-width="0.52" stroke-linejoin="round" text-anchor="middle">D-</text>
<text transform="translate(672.81,593.55) scale(1.090,1)" font-size="11.5" fill="#151515" stroke="#151515" stroke-width="0.52" stroke-linejoin="round" text-anchor="middle">12</text>
<text transform="translate(959.9,493.65) scale(1.090,1)" font-size="11.5" fill="#151515" stroke="#151515" stroke-width="0.52" stroke-linejoin="round" text-anchor="middle">15</text>
<text transform="translate(990.49,493.65) scale(0.970,1)" font-size="11.5" fill="#151515" stroke="#151515" stroke-width="0.52" stroke-linejoin="round" text-anchor="middle">X+</text>
<text transform="translate(960.46,544.45) scale(1.090,1)" font-size="11.5" fill="#151515" stroke="#151515" stroke-width="0.52" stroke-linejoin="round" text-anchor="middle">14</text>
<text transform="translate(988.59,544.45) scale(0.875,1)" font-size="11.5" fill="#151515" stroke="#151515" stroke-width="0.52" stroke-linejoin="round" text-anchor="middle">TX</text>
<text transform="translate(960.4,595.35) scale(1.090,1)" font-size="11.5" fill="#151515" stroke="#151515" stroke-width="0.52" stroke-linejoin="round" text-anchor="middle">13</text>
<text transform="translate(990.3,595.35) scale(1.060,1)" font-size="11.5" fill="#151515" stroke="#151515" stroke-width="0.52" stroke-linejoin="round" text-anchor="middle">X-</text>
<path d="M92.4,173.4 H146 M92.4,227.4 H136.6 M187.5,173.4 L226,173 M273.4,176 V172.6 L335.2,172.3 M273.28,269 L273.3,279.35 H335.2 M195.4,225.6 H208.5 V157.4 H299.7 V224.4 H335.2" fill="none" stroke="#0e0e0e" stroke-width="1.4" stroke-linejoin="miter"/><path d="M145.5,173.4 H157 M153,173.4 C166.2,173.4 166.2,183.97 153,183.97 C166.2,183.97 166.2,194.55 153,194.55 C166.2,194.55 166.2,205.12 153,205.12 C166.2,205.12 166.2,215.7 153,215.7 M157,215.7 H136.6 V236.8 H157 M153,236.8 C166.2,236.8 166.2,247.45 153,247.45 C166.2,247.45 166.2,258.1 153,258.1 C166.2,258.1 166.2,268.75 153,268.75 C166.2,268.75 166.2,279.4 153,279.4 M157,279.4 H92.4 M179.7,173.4 C166.5,173.4 166.5,183.97 179.7,183.97 C166.5,183.97 166.5,194.55 179.7,194.55 C166.5,194.55 166.5,205.12 179.7,205.12 C166.5,205.12 166.5,215.7 179.7,215.7 M175.7,215.7 H195.4 V236.8 H175.7 M179.7,236.8 C166.5,236.8 166.5,247.45 179.7,247.45 C166.5,247.45 166.5,258.1 179.7,258.1 C166.5,258.1 166.5,268.75 179.7,268.75 C166.5,268.75 166.5,279.4 179.7,279.4 M175.7,173.4 H188 M226,172.4 V207.9 M226,207.9 C226,222.97 237.85,222.97 237.85,207.9 C237.85,222.97 249.7,222.97 249.7,207.9 C249.7,222.97 261.55,222.97 261.55,207.9 C261.55,222.97 273.4,222.97 273.4,207.9 M273.4,207.9 V175 M175.7,279.4 H224.6 L225.3,242.7 M225.3,242.7 C225.3,227.9 237.18,227.9 237.18,242.7 C237.18,227.9 249.05,227.9 249.05,242.7 C249.05,227.9 260.93,227.9 260.93,242.7 C260.93,227.9 272.8,227.9 272.8,242.7 M272.8,242.7 L273.3,270" fill="none" stroke="#28323e" stroke-width="1.35" stroke-linejoin="round"/><path d="M166.1,172.6 V280.2" stroke="#444d58" stroke-width="1.5" fill="none"/><path d="M223.9,225.75 H275.7" stroke="#444d58" stroke-width="1.6" fill="none"/><circle cx="155.8" cy="178.6" r="2.25" fill="#050505"/><circle cx="155.8" cy="242.2" r="2.25" fill="#050505"/><circle cx="176.5" cy="178.6" r="2.25" fill="#050505"/><circle cx="176.6" cy="242.1" r="2.25" fill="#050505"/><circle cx="231.6" cy="211.9" r="2.25" fill="#050505"/><circle cx="230.9" cy="238.1" r="2.25" fill="#050505"/><text x="166.3" y="168.8" font-size="9.4" fill="#737373" stroke="#737373" stroke-width="0.25" text-anchor="middle" textLength="10.6" lengthAdjust="spacingAndGlyphs">1:1</text>
<path d="M92.4,313.3 H146 M92.4,367.3 H136.6 M187.5,313.3 L226,312.9 M273.4,315.9 V312.5 L335.2,312.2 M273.28,408.9 L273.3,419.25 H335.2 M195.4,365.5 H208.5 V297.3 H299.7 V364.3 H335.2" fill="none" stroke="#0e0e0e" stroke-width="1.4" stroke-linejoin="miter"/><path d="M145.5,313.3 H157 M153,313.3 C166.2,313.3 166.2,323.88 153,323.88 C166.2,323.88 166.2,334.45 153,334.45 C166.2,334.45 166.2,345.02 153,345.02 C166.2,345.02 166.2,355.6 153,355.6 M157,355.6 H136.6 V376.7 H157 M153,376.7 C166.2,376.7 166.2,387.35 153,387.35 C166.2,387.35 166.2,398 153,398 C166.2,398 166.2,408.65 153,408.65 C166.2,408.65 166.2,419.3 153,419.3 M157,419.3 H92.4 M179.7,313.3 C166.5,313.3 166.5,323.88 179.7,323.88 C166.5,323.88 166.5,334.45 179.7,334.45 C166.5,334.45 166.5,345.02 179.7,345.02 C166.5,345.02 166.5,355.6 179.7,355.6 M175.7,355.6 H195.4 V376.7 H175.7 M179.7,376.7 C166.5,376.7 166.5,387.35 179.7,387.35 C166.5,387.35 166.5,398 179.7,398 C166.5,398 166.5,408.65 179.7,408.65 C166.5,408.65 166.5,419.3 179.7,419.3 M175.7,313.3 H188 M226,312.3 V347.8 M226,347.8 C226,362.87 237.85,362.87 237.85,347.8 C237.85,362.87 249.7,362.87 249.7,347.8 C249.7,362.87 261.55,362.87 261.55,347.8 C261.55,362.87 273.4,362.87 273.4,347.8 M273.4,347.8 V314.9 M175.7,419.3 H224.6 L225.3,382.6 M225.3,382.6 C225.3,367.8 237.18,367.8 237.18,382.6 C237.18,367.8 249.05,367.8 249.05,382.6 C249.05,367.8 260.93,367.8 260.93,382.6 C260.93,367.8 272.8,367.8 272.8,382.6 M272.8,382.6 L273.3,409.9" fill="none" stroke="#28323e" stroke-width="1.35" stroke-linejoin="round"/><path d="M166.1,312.5 V420.1" stroke="#444d58" stroke-width="1.5" fill="none"/><path d="M223.9,365.65 H275.7" stroke="#444d58" stroke-width="1.6" fill="none"/><circle cx="155.8" cy="318.5" r="2.25" fill="#050505"/><circle cx="155.8" cy="382.1" r="2.25" fill="#050505"/><circle cx="176.5" cy="318.5" r="2.25" fill="#050505"/><circle cx="176.6" cy="382" r="2.25" fill="#050505"/><circle cx="231.6" cy="351.8" r="2.25" fill="#050505"/><circle cx="230.9" cy="378" r="2.25" fill="#050505"/><text x="166.3" y="308.7" font-size="9.4" fill="#737373" stroke="#737373" stroke-width="0.25" text-anchor="middle" textLength="10.6" lengthAdjust="spacingAndGlyphs">1:1</text>
<path d="M698.8,86.3 H750.28 M698.8,137.81 H741.25 M790.14,86.3 L827.11,85.92 M872.63,88.78 V85.54 L931.99,85.25 M872.52,177.49 L872.54,187.37 H931.99 M797.72,136.09 H810.3 V71.04 H897.89 V134.95 H931.99" fill="none" stroke="#0e0e0e" stroke-width="1.35" stroke-linejoin="miter"/><path d="M749.8,86.3 H760.84 M757,86.3 C769.68,86.3 769.68,96.39 757,96.39 C769.68,96.39 769.68,106.48 757,106.48 C769.68,106.48 769.68,116.56 757,116.56 C769.68,116.56 769.68,126.65 757,126.65 M760.84,126.65 H741.25 V146.78 H760.84 M757,146.78 C769.68,146.78 769.68,156.94 757,156.94 C769.68,156.94 769.68,167.1 757,167.1 C769.68,167.1 769.68,177.25 757,177.25 C769.68,177.25 769.68,187.41 757,187.41 M760.84,187.41 H698.8 M782.64,86.3 C769.97,86.3 769.97,96.39 782.64,96.39 C769.97,96.39 769.97,106.48 782.64,106.48 C769.97,106.48 769.97,116.56 782.64,116.56 C769.97,116.56 769.97,126.65 782.64,126.65 M778.8,126.65 H797.72 V146.78 H778.8 M782.64,146.78 C769.97,146.78 769.97,156.94 782.64,156.94 C769.97,156.94 769.97,167.1 782.64,167.1 C769.97,167.1 769.97,177.25 782.64,177.25 C769.97,177.25 769.97,187.41 782.64,187.41 M778.8,86.3 H790.62 M827.11,85.35 V119.21 M827.11,119.21 C827.11,133.58 838.49,133.58 838.49,119.21 C838.49,133.58 849.87,133.58 849.87,119.21 C849.87,133.58 861.25,133.58 861.25,119.21 C861.25,133.58 872.63,133.58 872.63,119.21 M872.63,119.21 V87.83 M778.8,187.41 H825.77 L826.44,152.41 M826.44,152.41 C826.44,138.29 837.84,138.29 837.84,152.41 C837.84,138.29 849.25,138.29 849.25,152.41 C849.25,138.29 860.65,138.29 860.65,152.41 C860.65,138.29 872.06,138.29 872.06,152.41 M872.06,152.41 L872.54,178.45" fill="none" stroke="#28323e" stroke-width="1.3" stroke-linejoin="round"/><path d="M769.58,85.54 V188.18" stroke="#444d58" stroke-width="1.5" fill="none"/><path d="M825.09,136.24 H874.84" stroke="#444d58" stroke-width="1.6" fill="none"/><circle cx="759.69" cy="91.26" r="2.16" fill="#050505"/><circle cx="759.69" cy="151.93" r="2.16" fill="#050505"/><circle cx="779.57" cy="91.26" r="2.16" fill="#050505"/><circle cx="779.67" cy="151.83" r="2.16" fill="#050505"/><circle cx="832.49" cy="123.03" r="2.16" fill="#050505"/><circle cx="831.82" cy="148.02" r="2.16" fill="#050505"/><text x="770.06" y="81.7" font-size="9.4" fill="#737373" stroke="#737373" stroke-width="0.25" text-anchor="middle" textLength="10.2" lengthAdjust="spacingAndGlyphs">1:1</text>
<path d="M700.3,222 H751.78 M700.3,273.51 H742.75 M791.64,222 L828.61,221.62 M874.13,224.48 V221.24 L933.49,220.95 M874.02,313.19 L874.04,323.07 H933.49 M799.22,271.79 H811.8 V206.74 H899.39 V270.65 H933.49" fill="none" stroke="#0e0e0e" stroke-width="1.35" stroke-linejoin="miter"/><path d="M751.3,222 H762.34 M758.5,222 C771.18,222 771.18,232.09 758.5,232.09 C771.18,232.09 771.18,242.18 758.5,242.18 C771.18,242.18 771.18,252.26 758.5,252.26 C771.18,252.26 771.18,262.35 758.5,262.35 M762.34,262.35 H742.75 V282.48 H762.34 M758.5,282.48 C771.18,282.48 771.18,292.64 758.5,292.64 C771.18,292.64 771.18,302.8 758.5,302.8 C771.18,302.8 771.18,312.95 758.5,312.95 C771.18,312.95 771.18,323.11 758.5,323.11 M762.34,323.11 H700.3 M784.14,222 C771.47,222 771.47,232.09 784.14,232.09 C771.47,232.09 771.47,242.18 784.14,242.18 C771.47,242.18 771.47,252.26 784.14,252.26 C771.47,252.26 771.47,262.35 784.14,262.35 M780.3,262.35 H799.22 V282.48 H780.3 M784.14,282.48 C771.47,282.48 771.47,292.64 784.14,292.64 C771.47,292.64 771.47,302.8 784.14,302.8 C771.47,302.8 771.47,312.95 784.14,312.95 C771.47,312.95 771.47,323.11 784.14,323.11 M780.3,222 H792.12 M828.61,221.05 V254.91 M828.61,254.91 C828.61,269.28 839.99,269.28 839.99,254.91 C839.99,269.28 851.37,269.28 851.37,254.91 C851.37,269.28 862.75,269.28 862.75,254.91 C862.75,269.28 874.13,269.28 874.13,254.91 M874.13,254.91 V223.53 M780.3,323.11 H827.27 L827.94,288.11 M827.94,288.11 C827.94,273.99 839.34,273.99 839.34,288.11 C839.34,273.99 850.75,273.99 850.75,288.11 C850.75,273.99 862.15,273.99 862.15,288.11 C862.15,273.99 873.56,273.99 873.56,288.11 M873.56,288.11 L874.04,314.15" fill="none" stroke="#28323e" stroke-width="1.3" stroke-linejoin="round"/><path d="M771.08,221.24 V323.88" stroke="#444d58" stroke-width="1.5" fill="none"/><path d="M826.59,271.94 H876.34" stroke="#444d58" stroke-width="1.6" fill="none"/><circle cx="761.19" cy="226.96" r="2.16" fill="#050505"/><circle cx="761.19" cy="287.63" r="2.16" fill="#050505"/><circle cx="781.07" cy="226.96" r="2.16" fill="#050505"/><circle cx="781.17" cy="287.53" r="2.16" fill="#050505"/><circle cx="833.99" cy="258.73" r="2.16" fill="#050505"/><circle cx="833.32" cy="283.72" r="2.16" fill="#050505"/><text x="771.56" y="217.4" font-size="9.4" fill="#737373" stroke="#737373" stroke-width="0.25" text-anchor="middle" textLength="10.2" lengthAdjust="spacingAndGlyphs">1:1</text>
<path d="M700.2,357.1 H751.68 M700.2,408.61 H742.65 M791.54,357.1 L828.51,356.72 M874.03,359.58 V356.34 L933.39,356.05 M873.92,448.29 L873.94,458.17 H933.39 M799.12,406.89 H811.7 V341.84 H899.29 V405.75 H933.39" fill="none" stroke="#0e0e0e" stroke-width="1.35" stroke-linejoin="miter"/><path d="M751.2,357.1 H762.24 M758.4,357.1 C771.08,357.1 771.08,367.19 758.4,367.19 C771.08,367.19 771.08,377.28 758.4,377.28 C771.08,377.28 771.08,387.36 758.4,387.36 C771.08,387.36 771.08,397.45 758.4,397.45 M762.24,397.45 H742.65 V417.58 H762.24 M758.4,417.58 C771.08,417.58 771.08,427.74 758.4,427.74 C771.08,427.74 771.08,437.9 758.4,437.9 C771.08,437.9 771.08,448.05 758.4,448.05 C771.08,448.05 771.08,458.21 758.4,458.21 M762.24,458.21 H700.2 M784.04,357.1 C771.37,357.1 771.37,367.19 784.04,367.19 C771.37,367.19 771.37,377.28 784.04,377.28 C771.37,377.28 771.37,387.36 784.04,387.36 C771.37,387.36 771.37,397.45 784.04,397.45 M780.2,397.45 H799.12 V417.58 H780.2 M784.04,417.58 C771.37,417.58 771.37,427.74 784.04,427.74 C771.37,427.74 771.37,437.9 784.04,437.9 C771.37,437.9 771.37,448.05 784.04,448.05 C771.37,448.05 771.37,458.21 784.04,458.21 M780.2,357.1 H792.02 M828.51,356.15 V390.01 M828.51,390.01 C828.51,404.38 839.89,404.38 839.89,390.01 C839.89,404.38 851.27,404.38 851.27,390.01 C851.27,404.38 862.65,404.38 862.65,390.01 C862.65,404.38 874.03,404.38 874.03,390.01 M874.03,390.01 V358.63 M780.2,458.21 H827.17 L827.84,423.21 M827.84,423.21 C827.84,409.09 839.24,409.09 839.24,423.21 C839.24,409.09 850.65,409.09 850.65,423.21 C850.65,409.09 862.05,409.09 862.05,423.21 C862.05,409.09 873.46,409.09 873.46,423.21 M873.46,423.21 L873.94,449.25" fill="none" stroke="#28323e" stroke-width="1.3" stroke-linejoin="round"/><path d="M770.98,356.34 V458.98" stroke="#444d58" stroke-width="1.5" fill="none"/><path d="M826.49,407.04 H876.24" stroke="#444d58" stroke-width="1.6" fill="none"/><circle cx="761.09" cy="362.06" r="2.16" fill="#050505"/><circle cx="761.09" cy="422.73" r="2.16" fill="#050505"/><circle cx="780.97" cy="362.06" r="2.16" fill="#050505"/><circle cx="781.07" cy="422.63" r="2.16" fill="#050505"/><circle cx="833.89" cy="393.83" r="2.16" fill="#050505"/><circle cx="833.22" cy="418.82" r="2.16" fill="#050505"/><text x="771.46" y="352.5" font-size="9.4" fill="#737373" stroke="#737373" stroke-width="0.25" text-anchor="middle" textLength="10.2" lengthAdjust="spacingAndGlyphs">1:1</text>
<path d="M701.8,492.5 H753.28 M701.8,544.01 H744.25 M793.14,492.5 L830.11,492.12 M875.63,494.98 V491.74 L934.99,491.45 M875.52,583.69 L875.54,593.57 H934.99 M800.72,542.29 H813.3 V477.24 H900.89 V541.15 H934.99" fill="none" stroke="#0e0e0e" stroke-width="1.35" stroke-linejoin="miter"/><path d="M752.8,492.5 H763.84 M760,492.5 C772.68,492.5 772.68,502.59 760,502.59 C772.68,502.59 772.68,512.68 760,512.68 C772.68,512.68 772.68,522.76 760,522.76 C772.68,522.76 772.68,532.85 760,532.85 M763.84,532.85 H744.25 V552.98 H763.84 M760,552.98 C772.68,552.98 772.68,563.14 760,563.14 C772.68,563.14 772.68,573.3 760,573.3 C772.68,573.3 772.68,583.45 760,583.45 C772.68,583.45 772.68,593.61 760,593.61 M763.84,593.61 H701.8 M785.64,492.5 C772.97,492.5 772.97,502.59 785.64,502.59 C772.97,502.59 772.97,512.68 785.64,512.68 C772.97,512.68 772.97,522.76 785.64,522.76 C772.97,522.76 772.97,532.85 785.64,532.85 M781.8,532.85 H800.72 V552.98 H781.8 M785.64,552.98 C772.97,552.98 772.97,563.14 785.64,563.14 C772.97,563.14 772.97,573.3 785.64,573.3 C772.97,573.3 772.97,583.45 785.64,583.45 C772.97,583.45 772.97,593.61 785.64,593.61 M781.8,492.5 H793.62 M830.11,491.55 V525.41 M830.11,525.41 C830.11,539.78 841.49,539.78 841.49,525.41 C841.49,539.78 852.87,539.78 852.87,525.41 C852.87,539.78 864.25,539.78 864.25,525.41 C864.25,539.78 875.63,539.78 875.63,525.41 M875.63,525.41 V494.03 M781.8,593.61 H828.77 L829.44,558.61 M829.44,558.61 C829.44,544.49 840.84,544.49 840.84,558.61 C840.84,544.49 852.25,544.49 852.25,558.61 C852.25,544.49 863.65,544.49 863.65,558.61 C863.65,544.49 875.06,544.49 875.06,558.61 M875.06,558.61 L875.54,584.65" fill="none" stroke="#28323e" stroke-width="1.3" stroke-linejoin="round"/><path d="M772.58,491.74 V594.38" stroke="#444d58" stroke-width="1.5" fill="none"/><path d="M828.09,542.44 H877.84" stroke="#444d58" stroke-width="1.6" fill="none"/><circle cx="762.69" cy="497.46" r="2.16" fill="#050505"/><circle cx="762.69" cy="558.13" r="2.16" fill="#050505"/><circle cx="782.57" cy="497.46" r="2.16" fill="#050505"/><circle cx="782.67" cy="558.03" r="2.16" fill="#050505"/><circle cx="835.49" cy="529.23" r="2.16" fill="#050505"/><circle cx="834.82" cy="554.22" r="2.16" fill="#050505"/><text x="773.06" y="487.9" font-size="9.4" fill="#737373" stroke="#737373" stroke-width="0.25" text-anchor="middle" textLength="10.2" lengthAdjust="spacingAndGlyphs">1:1</text>
<circle cx="396.2" cy="173.3" r="14.9" fill="none" stroke="#e2001a" stroke-width="1.4"/>
<circle cx="396.2" cy="276.4" r="14.9" fill="none" stroke="#e2001a" stroke-width="1.4"/>
<circle cx="396.2" cy="314.4" r="14.9" fill="none" stroke="#e2001a" stroke-width="1.4"/>
<circle cx="396.2" cy="418" r="14.9" fill="none" stroke="#e2001a" stroke-width="1.4"/>
<circle cx="990.5" cy="86" r="14.6" fill="none" stroke="#e2001a" stroke-width="1.4"/>
<circle cx="990.5" cy="185.2" r="14.6" fill="none" stroke="#e2001a" stroke-width="1.4"/>
<circle cx="990.4" cy="222.1" r="14.6" fill="none" stroke="#e2001a" stroke-width="1.4"/>
<circle cx="990.4" cy="321.2" r="14.6" fill="none" stroke="#e2001a" stroke-width="1.4"/>
<circle cx="990.4" cy="355.8" r="14.6" fill="none" stroke="#e2001a" stroke-width="1.4"/>
<circle cx="990.4" cy="455.7" r="14.6" fill="none" stroke="#e2001a" stroke-width="1.4"/>
<circle cx="990.4" cy="491.5" r="14.6" fill="none" stroke="#e2001a" stroke-width="1.4"/>
<circle cx="990.4" cy="591.2" r="14.6" fill="none" stroke="#e2001a" stroke-width="1.4"/>
<path d="M414.2,177.95 C427.2,177.75 435.2,183.6 435.2,196.1 V213.2 C435.2,220.7 438,224.7 446.7,225.8 L446.7,226.6 C438,227.7 435.2,231.7 435.2,239.2 V256.3 C435.2,268.8 427.2,274.65 414.2,274.45 L414.2,272.15 C424.2,271.55 430.8,267.3 430.8,256.3 V239.2 C430.8,232.7 432.6,228.5 438.2,226.2 C432.6,223.9 430.8,219.7 430.8,213.2 V196.1 C430.8,185.1 424.2,180.85 414.2,180.25 Z" fill="#b4aa26"/>
<path d="M414.2,317.75 C427.2,317.55 435.2,323.4 435.2,335.9 V353 C435.2,360.5 438,364.5 446.7,365.6 L446.7,366.4 C438,367.5 435.2,371.5 435.2,379 V396.1 C435.2,408.6 427.2,414.45 414.2,414.25 L414.2,411.95 C424.2,411.35 430.8,407.1 430.8,396.1 V379 C430.8,372.5 432.6,368.3 438.2,366 C432.6,363.7 430.8,359.5 430.8,353 V335.9 C430.8,324.9 424.2,320.65 414.2,320.05 Z" fill="#b4aa26"/>
<path d="M1008.1,90.65 C1021.1,90.45 1027.65,96.3 1027.65,108.8 V123.7 C1027.65,131.2 1030.45,135.2 1038.9,136.3 L1038.9,137.1 C1030.45,138.2 1027.65,142.2 1027.65,149.7 V164.6 C1027.65,177.1 1021.1,182.95 1008.1,182.75 L1008.1,180.45 C1018.1,179.85 1023.75,175.6 1023.75,164.6 V149.7 C1023.75,143.2 1025.55,139 1031.15,136.7 C1025.55,134.4 1023.75,130.2 1023.75,123.7 V108.8 C1023.75,97.8 1018.1,93.55 1008.1,92.95 Z" fill="#b4aa26"/>
<path d="M1008.1,225.35 C1021.1,225.15 1027.95,231 1027.95,243.5 V258.5 C1027.95,266 1030.75,270 1038.9,271.1 L1038.9,271.9 C1030.75,273 1027.95,277 1027.95,284.5 V299.5 C1027.95,312 1021.1,317.85 1008.1,317.65 L1008.1,315.35 C1018.1,314.75 1024.05,310.5 1024.05,299.5 V284.5 C1024.05,278 1025.85,273.8 1031.45,271.5 C1025.85,269.2 1024.05,265 1024.05,258.5 V243.5 C1024.05,232.5 1018.1,228.25 1008.1,227.65 Z" fill="#b4aa26"/>
<path d="M1014,355.35 C1027,355.15 1033.95,361 1033.95,373.5 V388.4 C1033.95,395.9 1036.75,399.9 1045,401 L1045,401.8 C1036.75,402.9 1033.95,406.9 1033.95,414.4 V429.3 C1033.95,441.8 1027,447.65 1014,447.45 L1014,445.15 C1024,444.55 1030.05,440.3 1030.05,429.3 V414.4 C1030.05,407.9 1031.85,403.7 1037.45,401.4 C1031.85,399.1 1030.05,394.9 1030.05,388.4 V373.5 C1030.05,362.5 1024,358.25 1014,357.65 Z" fill="#b4aa26"/>
<path d="M1008.1,494.75 C1021.1,494.55 1027.95,500.4 1027.95,512.9 V528 C1027.95,535.5 1030.75,539.5 1038.9,540.6 L1038.9,541.4 C1030.75,542.5 1027.95,546.5 1027.95,554 V569.1 C1027.95,581.6 1021.1,587.45 1008.1,587.25 L1008.1,584.95 C1018.1,584.35 1024.05,580.1 1024.05,569.1 V554 C1024.05,547.5 1025.85,543.3 1031.45,541 C1025.85,538.7 1024.05,534.5 1024.05,528 V512.9 C1024.05,501.9 1018.1,497.65 1008.1,497.05 Z" fill="#b4aa26"/>
<path d="M482.34,231.1 C491.35,231.1 494.67,221 503.2,220.9" fill="none" stroke="#17345a" stroke-width="3.1"/><path d="M482.34,231.1 C491.35,231.1 494.67,221 503.2,220.9" fill="none" stroke="#fff" stroke-width="1.25"/><path d="M455.8,230.5 C464.81,230.2 467.18,220.6 475.71,220.6 C486.14,220.6 491.82,230.5 503.2,230.7" fill="none" stroke="#17345a" stroke-width="2.7"/><path d="M455.8,220.7 C466.23,220.9 472.86,231.1 482.34,231.1" fill="none" stroke="#17345a" stroke-width="3.1"/><path d="M455.8,220.7 C466.23,220.9 472.86,231.1 482.34,231.1" fill="none" stroke="#fff" stroke-width="1.25"/>
<path d="M482.34,370.5 C491.35,370.5 494.67,360.6 503.2,360.5" fill="none" stroke="#17345a" stroke-width="3.1"/><path d="M482.34,370.5 C491.35,370.5 494.67,360.6 503.2,360.5" fill="none" stroke="#fff" stroke-width="1.25"/><path d="M455.8,369.9 C464.81,369.6 467.18,360.2 475.71,360.2 C486.14,360.2 491.82,369.9 503.2,370.1" fill="none" stroke="#17345a" stroke-width="2.7"/><path d="M455.8,360.3 C466.23,360.5 472.86,370.5 482.34,370.5" fill="none" stroke="#17345a" stroke-width="3.1"/><path d="M455.8,360.3 C466.23,360.5 472.86,370.5 482.34,370.5" fill="none" stroke="#fff" stroke-width="1.25"/>
<path d="M1073.48,141.3 C1082.12,141.3 1085.31,131.8 1093.5,131.7" fill="none" stroke="#17345a" stroke-width="3.1"/><path d="M1073.48,141.3 C1082.12,141.3 1085.31,131.8 1093.5,131.7" fill="none" stroke="#fff" stroke-width="1.25"/><path d="M1048,140.7 C1056.64,140.4 1058.92,131.4 1067.11,131.4 C1077.12,131.4 1082.58,140.7 1093.5,140.9" fill="none" stroke="#17345a" stroke-width="2.7"/><path d="M1048,131.5 C1058.01,131.7 1064.38,141.3 1073.48,141.3" fill="none" stroke="#17345a" stroke-width="3.1"/><path d="M1048,131.5 C1058.01,131.7 1064.38,141.3 1073.48,141.3" fill="none" stroke="#fff" stroke-width="1.25"/>
<path d="M1073.52,275.4 C1082.15,275.4 1085.33,266 1093.5,265.9" fill="none" stroke="#17345a" stroke-width="3.1"/><path d="M1073.52,275.4 C1082.15,275.4 1085.33,266 1093.5,265.9" fill="none" stroke="#fff" stroke-width="1.25"/><path d="M1048.1,274.8 C1056.73,274.5 1059,265.6 1067.17,265.6 C1077.16,265.6 1082.6,274.8 1093.5,275" fill="none" stroke="#17345a" stroke-width="2.7"/><path d="M1048.1,265.7 C1058.09,265.9 1064.44,275.4 1073.52,275.4" fill="none" stroke="#17345a" stroke-width="3.1"/><path d="M1048.1,265.7 C1058.09,265.9 1064.44,275.4 1073.52,275.4" fill="none" stroke="#fff" stroke-width="1.25"/>
<path d="M1075.68,405.6 C1084.33,405.6 1087.51,396 1095.7,395.9" fill="none" stroke="#17345a" stroke-width="3.1"/><path d="M1075.68,405.6 C1084.33,405.6 1087.51,396 1095.7,395.9" fill="none" stroke="#fff" stroke-width="1.25"/><path d="M1050.2,405 C1058.85,404.7 1061.12,395.6 1069.31,395.6 C1079.32,395.6 1084.78,405 1095.7,405.2" fill="none" stroke="#17345a" stroke-width="2.7"/><path d="M1050.2,395.7 C1060.21,395.9 1066.58,405.6 1075.68,405.6" fill="none" stroke="#17345a" stroke-width="3.1"/><path d="M1050.2,395.7 C1060.21,395.9 1066.58,405.6 1075.68,405.6" fill="none" stroke="#fff" stroke-width="1.25"/>
<path d="M1069.04,547.7 C1077.7,547.7 1080.89,538.3 1089.1,538.2" fill="none" stroke="#17345a" stroke-width="3.1"/><path d="M1069.04,547.7 C1077.7,547.7 1080.89,538.3 1089.1,538.2" fill="none" stroke="#fff" stroke-width="1.25"/><path d="M1043.5,547.1 C1052.16,546.8 1054.44,537.9 1062.65,537.9 C1072.68,537.9 1078.16,547.1 1089.1,547.3" fill="none" stroke="#17345a" stroke-width="2.7"/><path d="M1043.5,538 C1053.53,538.2 1059.92,547.7 1069.04,547.7" fill="none" stroke="#17345a" stroke-width="3.1"/><path d="M1043.5,538 C1053.53,538.2 1059.92,547.7 1069.04,547.7" fill="none" stroke="#fff" stroke-width="1.25"/>
<g role="img" aria-label="10/100 Mbit/s uses 2 pairs"><title>10/100 Mbit/s uses 2 pairs</title>
<text transform="translate(180.57,496) scale(1.033,1)" font-size="18.1" fill="#1b2433" stroke="#1b2433" stroke-width="0.45" text-anchor="middle">10</text>
<text transform="translate(195.62,496) skewX(-10.8)" font-size="18.1" fill="#1b2433" stroke="#1b2433" stroke-width="0.45" text-anchor="middle">/</text>
<text transform="translate(217.72,496) scale(1.093,1)" font-size="18.1" fill="#1b2433" stroke="#1b2433" stroke-width="0.45" text-anchor="middle">100</text>
<text transform="translate(256.91,496) scale(1.100,1)" font-size="18.1" fill="#1b2433" stroke="#1b2433" stroke-width="0.45" text-anchor="middle">Mbit</text>
<text transform="translate(279.43,496) skewX(-13.72)" font-size="18.1" fill="#1b2433" stroke="#1b2433" stroke-width="0.45" text-anchor="middle">/</text>
<text transform="translate(291.07,496) scale(1.095,1)" font-size="18.1" fill="#1b2433" stroke="#1b2433" stroke-width="0.45" text-anchor="middle">s</text>
<text transform="translate(319.29,496) scale(1.018,1)" font-size="18.1" fill="#1b2433" stroke="#1b2433" stroke-width="0.45" text-anchor="middle">uses</text>
<text transform="translate(348.85,496) scale(1.021,1)" font-size="18.1" fill="#1b2433" stroke="#1b2433" stroke-width="0.45" text-anchor="middle">2</text>
<text transform="translate(379.68,496) scale(1.067,1)" font-size="18.1" fill="#1b2433" stroke="#1b2433" stroke-width="0.45" text-anchor="middle">pairs</text>
</g>
<g role="img" aria-label="1 Gbit/s or 10 Gbit/s uses 4 pairs"><title>1 Gbit/s or 10 Gbit/s uses 4 pairs</title>
<text transform="translate(784.75,693.3) scale(0.782,1)" font-size="17.4" fill="#1b2433" stroke="#1b2433" stroke-width="0.45" text-anchor="middle">1</text>
<text transform="translate(811.58,693.3) scale(1.044,1)" font-size="17.4" fill="#1b2433" stroke="#1b2433" stroke-width="0.45" text-anchor="middle">Gbit</text>
<text transform="translate(831.87,693.3) skewX(-11.88)" font-size="17.4" fill="#1b2433" stroke="#1b2433" stroke-width="0.45" text-anchor="middle">/</text>
<text transform="translate(841.55,693.3) scale(0.993,1)" font-size="17.4" fill="#1b2433" stroke="#1b2433" stroke-width="0.45" text-anchor="middle">s</text>
<text transform="translate(857.56,693.3) scale(1.014,1)" font-size="17.4" fill="#1b2433" stroke="#1b2433" stroke-width="0.45" text-anchor="middle">or</text>
<text transform="translate(881,693.3) scale(1.003,1)" font-size="17.4" fill="#1b2433" stroke="#1b2433" stroke-width="0.45" text-anchor="middle">10</text>
<text transform="translate(912.3,693.3) scale(1.034,1)" font-size="17.4" fill="#1b2433" stroke="#1b2433" stroke-width="0.45" text-anchor="middle">Gbit</text>
<text transform="translate(932.2,693.3) skewX(-12.9)" font-size="17.4" fill="#1b2433" stroke="#1b2433" stroke-width="0.45" text-anchor="middle">/</text>
<text transform="translate(942.24,693.3) scale(0.965,1)" font-size="17.4" fill="#1b2433" stroke="#1b2433" stroke-width="0.45" text-anchor="middle">s</text>
<text transform="translate(969.37,693.3) scale(1.007,1)" font-size="17.4" fill="#1b2433" stroke="#1b2433" stroke-width="0.45" text-anchor="middle">uses</text>
<text transform="translate(998.28,693.3) scale(0.984,1)" font-size="17.4" fill="#1b2433" stroke="#1b2433" stroke-width="0.45" text-anchor="middle">4</text>
<text transform="translate(1027.83,693.3) scale(1.068,1)" font-size="17.4" fill="#1b2433" stroke="#1b2433" stroke-width="0.45" text-anchor="middle">pairs</text>
</g>
</svg>
</body>
</html>
